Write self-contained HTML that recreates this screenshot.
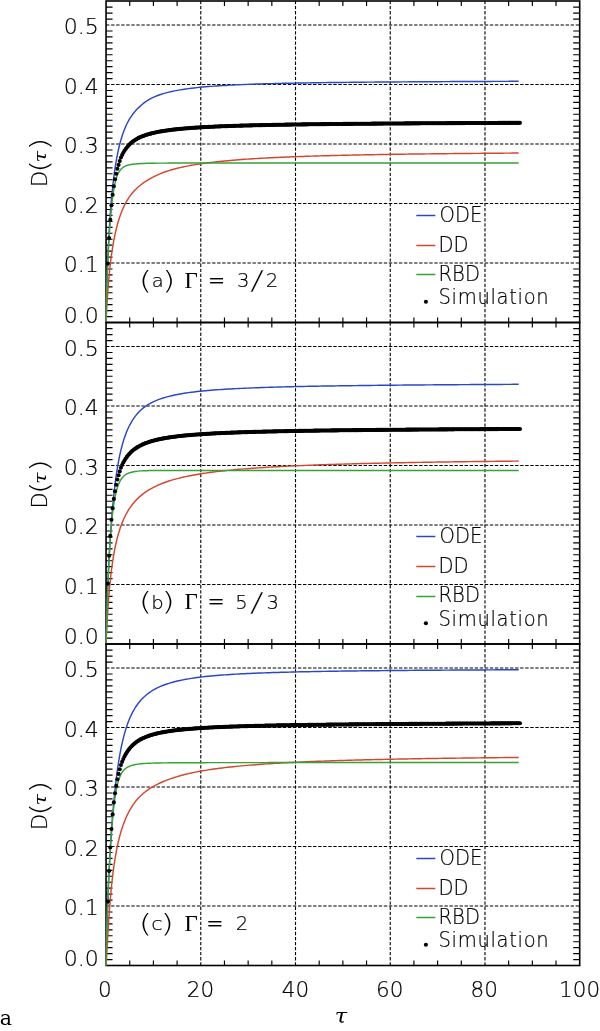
<!DOCTYPE html>
<html><head><meta charset="utf-8"><title>D(tau) vs tau</title>
<style>html,body{margin:0;padding:0;background:#fff}svg{display:block}</style></head><body>
<svg width="600" height="1031" viewBox="0 0 600 1031">
<rect width="600" height="1031" fill="#fff"/>
<g stroke="#000" stroke-width="1.1" fill="none"><path d="M106.05 263H579.7" stroke-dasharray="3.4 1.65"/><path d="M106.05 203.5H579.7" stroke-dasharray="3.4 1.65"/><path d="M106.05 144H579.7" stroke-dasharray="3.4 1.65"/><path d="M106.05 84.5H579.7" stroke-dasharray="3.4 1.65"/><path d="M106.05 25H579.7" stroke-dasharray="3.4 1.65"/><path d="M200.78 1V322.5" stroke-dasharray="3.3 1.75"/><path d="M295.51 1V322.5" stroke-dasharray="3.3 1.75"/><path d="M390.24 1V322.5" stroke-dasharray="3.3 1.75"/><path d="M484.97 1V322.5" stroke-dasharray="3.3 1.75"/></g>
<path d="M106.05 316.55h6.5M579.7 316.55h-6.5M106.05 310.6h6.5M579.7 310.6h-6.5M106.05 304.65h6.5M579.7 304.65h-6.5M106.05 298.7h6.5M579.7 298.7h-6.5M106.05 292.75h6.5M579.7 292.75h-6.5M106.05 286.8h6.5M579.7 286.8h-6.5M106.05 280.85h6.5M579.7 280.85h-6.5M106.05 274.9h6.5M579.7 274.9h-6.5M106.05 268.95h6.5M579.7 268.95h-6.5M106.05 257.05h6.5M579.7 257.05h-6.5M106.05 251.1h6.5M579.7 251.1h-6.5M106.05 245.15h6.5M579.7 245.15h-6.5M106.05 239.2h6.5M579.7 239.2h-6.5M106.05 233.25h6.5M579.7 233.25h-6.5M106.05 227.3h6.5M579.7 227.3h-6.5M106.05 221.35h6.5M579.7 221.35h-6.5M106.05 215.4h6.5M579.7 215.4h-6.5M106.05 209.45h6.5M579.7 209.45h-6.5M106.05 197.55h6.5M579.7 197.55h-6.5M106.05 191.6h6.5M579.7 191.6h-6.5M106.05 185.65h6.5M579.7 185.65h-6.5M106.05 179.7h6.5M579.7 179.7h-6.5M106.05 173.75h6.5M579.7 173.75h-6.5M106.05 167.8h6.5M579.7 167.8h-6.5M106.05 161.85h6.5M579.7 161.85h-6.5M106.05 155.9h6.5M579.7 155.9h-6.5M106.05 149.95h6.5M579.7 149.95h-6.5M106.05 138.05h6.5M579.7 138.05h-6.5M106.05 132.1h6.5M579.7 132.1h-6.5M106.05 126.15h6.5M579.7 126.15h-6.5M106.05 120.2h6.5M579.7 120.2h-6.5M106.05 114.25h6.5M579.7 114.25h-6.5M106.05 108.3h6.5M579.7 108.3h-6.5M106.05 102.35h6.5M579.7 102.35h-6.5M106.05 96.4h6.5M579.7 96.4h-6.5M106.05 90.45h6.5M579.7 90.45h-6.5M106.05 78.55h6.5M579.7 78.55h-6.5M106.05 72.6h6.5M579.7 72.6h-6.5M106.05 66.65h6.5M579.7 66.65h-6.5M106.05 60.7h6.5M579.7 60.7h-6.5M106.05 54.75h6.5M579.7 54.75h-6.5M106.05 48.8h6.5M579.7 48.8h-6.5M106.05 42.85h6.5M579.7 42.85h-6.5M106.05 36.9h6.5M579.7 36.9h-6.5M106.05 30.95h6.5M579.7 30.95h-6.5M106.05 19.05h6.5M579.7 19.05h-6.5M106.05 13.1h6.5M579.7 13.1h-6.5M106.05 7.15h6.5M579.7 7.15h-6.5M129.73 322.5v-5.0M129.73 1v5.0M153.41 322.5v-5.0M153.41 1v5.0M177.1 322.5v-5.0M177.1 1v5.0M224.46 322.5v-5.0M224.46 1v5.0M248.14 322.5v-5.0M248.14 1v5.0M271.83 322.5v-5.0M271.83 1v5.0M319.19 322.5v-5.0M319.19 1v5.0M342.88 322.5v-5.0M342.88 1v5.0M366.56 322.5v-5.0M366.56 1v5.0M413.92 322.5v-5.0M413.92 1v5.0M437.61 322.5v-5.0M437.61 1v5.0M461.29 322.5v-5.0M461.29 1v5.0M508.65 322.5v-5.0M508.65 1v5.0M532.34 322.5v-5.0M532.34 1v5.0M556.02 322.5v-5.0M556.02 1v5.0" stroke="#000" stroke-width="1.15" fill="none"/>
<rect x="106.05" y="1" width="473.65" height="321.5" fill="none" stroke="#000" stroke-width="1.6"/>
<g fill="none" stroke-width="1.45" stroke-linejoin="round">
<path d="M106.05 322.5 106.11 318.15 106.17 314.72 106.23 311.61 106.29 308.7 106.35 305.94 106.41 303.31 106.48 300.79 106.54 298.36 106.6 296.02 106.66 293.74 106.72 291.54 106.78 289.39 106.84 287.31 106.9 285.27 106.96 283.29 107.02 281.35 107.08 279.46 107.14 277.61 107.2 275.8 107.26 274.03 107.33 272.29 107.39 270.59 107.45 268.93 107.51 267.29 107.57 265.68 107.63 264.11 107.69 262.56 107.75 261.04 107.81 259.55 107.87 258.08 107.93 256.64 107.99 255.22 108.05 253.82 108.11 252.45 108.18 251.1 108.24 249.77 108.3 248.46 108.36 247.17 108.42 245.89 108.66 241.06 108.9 236.5 109.14 232.18 109.38 228.08 109.62 224.18 109.86 220.46 110.09 216.92 110.33 213.54 110.57 210.31 110.81 207.22 111.05 204.26 111.29 201.41 111.53 198.69 111.77 196.06 112.01 193.54 112.25 191.12 112.49 188.78 112.73 186.53 112.97 184.36 113.21 182.26 113.45 180.23 113.69 178.28 113.93 176.39 114.17 174.56 114.41 172.79 114.64 171.07 114.88 169.41 115.12 167.8 115.36 166.24 115.6 164.73 115.84 163.26 116.08 161.83 116.32 160.44 116.56 159.1 116.8 157.79 117.04 156.52 117.28 155.28 117.52 154.07 117.76 152.9 118 151.76 118.24 150.65 118.48 149.57 118.72 148.51 118.96 147.48 119.2 146.48 119.43 145.5 119.67 144.55 119.91 143.61 120.15 142.71 120.39 141.82 120.63 140.95 120.87 140.1 121.11 139.28 121.35 138.47 121.59 137.68 121.83 136.91 122.07 136.15 122.31 135.41 122.55 134.69 122.79 133.98 123.03 133.29 123.27 132.61 123.51 131.95 123.75 131.3 123.98 130.66 124.22 130.04 124.46 129.43 124.7 128.83 124.94 128.24 125.18 127.67 125.42 127.1 125.66 126.55 125.9 126.01 126.14 125.48 126.38 124.96 126.62 124.45 126.86 123.95 127.1 123.46 127.34 122.98 127.58 122.51 127.82 122.05 128.06 121.6 128.3 121.16 128.54 120.73 128.77 120.3 129.01 119.89 129.25 119.48 129.49 119.08 129.73 118.69 132.53 114.55 135.33 111.09 138.13 108.11 140.93 105.47 143.72 103.15 146.52 101.14 149.32 99.42 152.12 97.93 154.92 96.64 157.72 95.51 160.51 94.53 163.31 93.65 166.11 92.86 168.91 92.15 171.71 91.5 174.51 90.91 177.3 90.37 180.1 89.88 182.9 89.42 185.7 89.01 188.5 88.62 191.3 88.26 194.09 87.93 196.89 87.62 199.69 87.33 202.49 87.06 205.29 86.81 208.09 86.58 210.88 86.36 213.68 86.15 216.48 85.95 219.28 85.77 222.08 85.6 224.88 85.43 227.67 85.28 230.47 85.13 233.27 84.99 236.07 84.86 238.87 84.73 241.67 84.61 244.46 84.5 247.26 84.39 250.06 84.29 252.86 84.19 255.66 84.09 258.46 84 261.25 83.92 264.05 83.83 266.85 83.75 269.65 83.68 272.45 83.6 275.25 83.53 278.04 83.47 280.84 83.4 283.64 83.34 286.44 83.28 289.24 83.22 292.04 83.16 294.83 83.11 297.63 83.06 300.43 83 303.23 82.96 306.03 82.91 308.83 82.86 311.62 82.82 314.42 82.77 317.22 82.73 320.02 82.69 322.82 82.65 325.62 82.61 328.41 82.58 331.21 82.54 334.01 82.51 336.81 82.47 339.61 82.44 342.41 82.41 345.2 82.38 348 82.35 350.8 82.32 353.6 82.29 356.4 82.26 359.2 82.23 361.99 82.2 364.79 82.18 367.59 82.15 370.39 82.13 373.19 82.1 375.99 82.08 378.78 82.06 381.58 82.03 384.38 82.01 387.18 81.99 389.98 81.97 392.78 81.95 395.57 81.93 398.37 81.91 401.17 81.89 403.97 81.87 406.77 81.85 409.57 81.83 412.36 81.81 415.16 81.79 417.96 81.78 420.76 81.76 423.56 81.74 426.36 81.73 429.15 81.71 431.95 81.7 434.75 81.68 437.55 81.66 440.35 81.65 443.15 81.63 445.94 81.62 448.74 81.61 451.54 81.59 454.34 81.58 457.14 81.56 459.94 81.55 462.73 81.54 465.53 81.52 468.33 81.51 471.13 81.5 473.93 81.49 476.73 81.47 479.52 81.46 482.32 81.45 485.12 81.44 487.92 81.43 490.72 81.42 493.52 81.4 496.31 81.39 499.11 81.38 501.91 81.37 504.71 81.36 507.51 81.35 510.31 81.34 513.1 81.33 515.9 81.32 518.7 81.31" stroke="#2a48c4"/>
<path d="M106.05 322.5 106.11 320.92 106.17 319.5 106.23 318.15 106.29 316.84 106.35 315.58 106.41 314.35 106.48 313.15 106.54 311.97 106.6 310.82 106.66 309.69 106.72 308.59 106.78 307.5 106.84 306.44 106.9 305.39 106.96 304.36 107.02 303.35 107.08 302.36 107.14 301.38 107.2 300.41 107.26 299.46 107.33 298.53 107.39 297.6 107.45 296.69 107.51 295.8 107.57 294.92 107.63 294.04 107.69 293.19 107.75 292.34 107.81 291.5 107.87 290.68 107.93 289.86 107.99 289.06 108.05 288.26 108.11 287.48 108.18 286.7 108.24 285.94 108.3 285.18 108.36 284.44 108.42 283.7 108.66 280.88 108.9 278.18 109.14 275.6 109.38 273.12 109.62 270.75 109.86 268.47 110.09 266.28 110.33 264.17 110.57 262.14 110.81 260.18 111.05 258.29 111.29 256.47 111.53 254.71 111.77 253 112.01 251.36 112.25 249.76 112.49 248.22 112.73 246.72 112.97 245.27 113.21 243.86 113.45 242.5 113.69 241.17 113.93 239.88 114.17 238.63 114.41 237.41 114.64 236.22 114.88 235.07 115.12 233.95 115.36 232.86 115.6 231.79 115.84 230.75 116.08 229.74 116.32 228.75 116.56 227.79 116.8 226.85 117.04 225.93 117.28 225.04 117.52 224.16 117.76 223.3 118 222.47 118.24 221.65 118.48 220.85 118.72 220.07 118.96 219.31 119.2 218.56 119.43 217.83 119.67 217.11 119.91 216.41 120.15 215.72 120.39 215.04 120.63 214.38 120.87 213.74 121.11 213.1 121.35 212.48 121.59 211.87 121.83 211.27 122.07 210.68 122.31 210.1 122.55 209.54 122.79 208.98 123.03 208.44 123.27 207.9 123.51 207.38 123.75 206.86 123.98 206.35 124.22 205.85 124.46 205.36 124.7 204.88 124.94 204.41 125.18 203.94 125.42 203.48 125.66 203.03 125.9 202.59 126.14 202.15 126.38 201.73 126.62 201.3 126.86 200.89 127.1 200.48 127.34 200.08 127.58 199.68 127.82 199.29 128.06 198.91 128.3 198.53 128.54 198.16 128.77 197.79 129.01 197.43 129.25 197.08 129.49 196.73 129.73 196.39 132.53 192.75 135.33 189.69 138.13 187.06 140.93 184.76 143.72 182.7 146.52 180.82 149.32 179.09 152.12 177.53 154.92 176.1 157.72 174.8 160.51 173.62 163.31 172.54 166.11 171.55 168.91 170.63 171.71 169.79 174.51 169.01 177.3 168.29 180.1 167.61 182.9 166.98 185.7 166.4 188.5 165.85 191.3 165.33 194.09 164.84 196.89 164.39 199.69 163.96 202.49 163.55 205.29 163.16 208.09 162.8 210.88 162.45 213.68 162.12 216.48 161.81 219.28 161.51 222.08 161.22 224.88 160.95 227.67 160.69 230.47 160.44 233.27 160.2 236.07 159.97 238.87 159.75 241.67 159.54 244.46 159.34 247.26 159.15 250.06 158.96 252.86 158.78 255.66 158.61 258.46 158.44 261.25 158.28 264.05 158.13 266.85 157.98 269.65 157.83 272.45 157.69 275.25 157.56 278.04 157.43 280.84 157.3 283.64 157.18 286.44 157.06 289.24 156.95 292.04 156.84 294.83 156.73 297.63 156.62 300.43 156.52 303.23 156.42 306.03 156.33 308.83 156.24 311.62 156.15 314.42 156.06 317.22 155.97 320.02 155.89 322.82 155.81 325.62 155.73 328.41 155.66 331.21 155.58 334.01 155.51 336.81 155.44 339.61 155.37 342.41 155.3 345.2 155.24 348 155.17 350.8 155.11 353.6 155.05 356.4 154.99 359.2 154.93 361.99 154.88 364.79 154.82 367.59 154.77 370.39 154.72 373.19 154.67 375.99 154.62 378.78 154.57 381.58 154.52 384.38 154.47 387.18 154.43 389.98 154.38 392.78 154.34 395.57 154.3 398.37 154.25 401.17 154.21 403.97 154.17 406.77 154.13 409.57 154.09 412.36 154.06 415.16 154.02 417.96 153.98 420.76 153.95 423.56 153.91 426.36 153.88 429.15 153.85 431.95 153.81 434.75 153.78 437.55 153.75 440.35 153.72 443.15 153.69 445.94 153.66 448.74 153.63 451.54 153.6 454.34 153.57 457.14 153.55 459.94 153.52 462.73 153.49 465.53 153.47 468.33 153.44 471.13 153.42 473.93 153.39 476.73 153.37 479.52 153.35 482.32 153.32 485.12 153.3 487.92 153.28 490.72 153.25 493.52 153.23 496.31 153.21 499.11 153.19 501.91 153.17 504.71 153.15 507.51 153.13 510.31 153.11 513.1 153.09 515.9 153.07 518.7 153.05" stroke="#d4472f"/>
<path d="M106.05 322.5 106.11 313.91 106.17 309.6 106.23 306.13 106.29 303.12 106.35 300.42 106.41 297.92 106.48 295.6 106.54 293.41 106.6 291.33 106.66 289.34 106.72 287.44 106.78 285.6 106.84 283.83 106.9 282.12 106.96 280.45 107.02 278.83 107.08 277.25 107.14 275.72 107.2 274.21 107.26 272.74 107.33 271.3 107.39 269.89 107.45 268.51 107.51 267.15 107.57 265.82 107.63 264.51 107.69 263.22 107.75 261.95 107.81 260.71 107.87 259.48 107.93 258.27 107.99 257.07 108.05 255.9 108.11 254.74 108.18 253.59 108.24 252.47 108.3 251.35 108.36 250.25 108.42 249.17 108.66 245.01 108.9 241.05 109.14 237.26 109.38 233.64 109.62 230.18 109.86 226.86 110.09 223.68 110.33 220.64 110.57 217.73 110.81 214.95 111.05 212.29 111.29 209.75 111.53 207.33 111.77 205.03 112.01 202.84 112.25 200.75 112.49 198.77 112.73 196.89 112.97 195.11 113.21 193.42 113.45 191.82 113.69 190.31 113.93 188.88 114.17 187.53 114.41 186.25 114.64 185.05 114.88 183.91 115.12 182.84 115.36 181.83 115.6 180.88 115.84 179.98 116.08 179.13 116.32 178.33 116.56 177.58 116.8 176.86 117.04 176.19 117.28 175.56 117.52 174.97 117.76 174.4 118 173.87 118.24 173.37 118.48 172.9 118.72 172.45 118.96 172.03 119.2 171.63 119.43 171.25 119.67 170.89 119.91 170.55 120.15 170.23 120.39 169.93 120.63 169.64 120.87 169.37 121.11 169.11 121.35 168.86 121.59 168.63 121.83 168.41 122.07 168.2 122.31 168 122.55 167.8 122.79 167.62 123.03 167.45 123.27 167.29 123.51 167.13 123.75 166.98 123.98 166.84 124.22 166.7 124.46 166.57 124.7 166.44 124.94 166.33 125.18 166.21 125.42 166.1 125.66 166 125.9 165.9 126.14 165.8 126.38 165.71 126.62 165.63 126.86 165.54 127.1 165.46 127.34 165.38 127.58 165.31 127.82 165.24 128.06 165.17 128.3 165.1 128.54 165.04 128.77 164.98 129.01 164.92 129.25 164.86 129.49 164.81 129.73 164.75 132.53 164.26 135.33 163.93 138.13 163.7 140.93 163.53 143.72 163.42 146.52 163.33 149.32 163.27 152.12 163.22 154.92 163.18 157.72 163.15 160.51 163.13 163.31 163.11 166.11 163.1 168.91 163.08 171.71 163.07 174.51 163.06 177.3 163.06 180.1 163.05 182.9 163.05 185.7 163.04 188.5 163.04 191.3 163.03 194.09 163.03 196.89 163.03 199.69 163.03 202.49 163.03 205.29 163.03 208.09 163.02 210.88 163.02 213.68 163.02 216.48 163.02 219.28 163.02 222.08 163.02 224.88 163.02 227.67 163.02 230.47 163.02 233.27 163.02 236.07 163.02 238.87 163.02 241.67 163.02 244.46 163.02 247.26 163.02 250.06 163.02 252.86 163.02 255.66 163.02 258.46 163.02 261.25 163.02 264.05 163.01 266.85 163.01 269.65 163.01 272.45 163.01 275.25 163.01 278.04 163.01 280.84 163.01 283.64 163.01 286.44 163.01 289.24 163.01 292.04 163.01 294.83 163.01 297.63 163.01 300.43 163.01 303.23 163.01 306.03 163.01 308.83 163.01 311.62 163.01 314.42 163.01 317.22 163.01 320.02 163.01 322.82 163.01 325.62 163.01 328.41 163.01 331.21 163.01 334.01 163.01 336.81 163.01 339.61 163.01 342.41 163.01 345.2 163.01 348 163.01 350.8 163.01 353.6 163.01 356.4 163.01 359.2 163.01 361.99 163.01 364.79 163.01 367.59 163.01 370.39 163.01 373.19 163.01 375.99 163.01 378.78 163.01 381.58 163.01 384.38 163.01 387.18 163.01 389.98 163.01 392.78 163.01 395.57 163.01 398.37 163.01 401.17 163.01 403.97 163.01 406.77 163 409.57 163 412.36 163 415.16 163 417.96 163 420.76 163 423.56 163 426.36 163 429.15 163 431.95 163 434.75 163 437.55 163 440.35 163 443.15 163 445.94 163 448.74 163 451.54 163 454.34 163 457.14 163 459.94 163 462.73 163 465.53 163 468.33 163 471.13 163 473.93 163 476.73 163 479.52 163 482.32 163 485.12 163 487.92 163 490.72 163 493.52 163 496.31 163 499.11 163 501.91 163 504.71 163 507.51 163 510.31 163 513.1 162.99 515.9 162.99 518.7 162.99" stroke="#36a136"/>
</g>
<g fill="#000"><circle cx="107.9" cy="263.6" r="2.05"/><circle cx="109.08" cy="238" r="2.05"/><circle cx="110.27" cy="219.8" r="2.05"/><circle cx="111.45" cy="205.3" r="2.05"/><circle cx="112.64" cy="194.7" r="2.05"/><circle cx="113.82" cy="186.2" r="2.05"/><circle cx="115" cy="179.2" r="2.05"/><circle cx="116.19" cy="173.8" r="2.05"/><circle cx="117.37" cy="168.8" r="2.05"/><circle cx="118.56" cy="164.9" r="2.05"/><circle cx="119.74" cy="161" r="2.05"/><circle cx="120.93" cy="157.46" r="2.05"/><circle cx="122.11" cy="154.93" r="2.05"/><circle cx="123.29" cy="152.71" r="2.05"/><circle cx="124.48" cy="150.75" r="2.05"/><circle cx="125.66" cy="149.01" r="2.05"/><circle cx="126.85" cy="147.45" r="2.05"/><circle cx="128.03" cy="146.05" r="2.05"/><circle cx="129.21" cy="144.77" r="2.05"/><circle cx="130.4" cy="143.62" r="2.05"/><circle cx="131.58" cy="142.56" r="2.05"/><circle cx="132.77" cy="141.61" r="2.05"/><circle cx="133.95" cy="140.73" r="2.05"/><circle cx="135.13" cy="139.93" r="2.05"/><circle cx="136.32" cy="139.2" r="2.05"/><circle cx="137.5" cy="138.53" r="2.05"/><circle cx="138.69" cy="137.92" r="2.05"/><circle cx="139.87" cy="137.35" r="2.05"/><circle cx="141.05" cy="136.82" r="2.05"/><circle cx="142.24" cy="136.33" r="2.05"/><circle cx="143.42" cy="135.88" r="2.05"/><circle cx="144.61" cy="135.45" r="2.05"/><circle cx="145.79" cy="135.05" r="2.05"/><circle cx="146.98" cy="134.67" r="2.05"/><circle cx="148.16" cy="134.31" r="2.05"/><circle cx="149.34" cy="133.97" r="2.05"/><circle cx="150.53" cy="133.65" r="2.05"/><circle cx="151.71" cy="133.34" r="2.05"/><circle cx="152.9" cy="133.05" r="2.05"/><circle cx="154.08" cy="132.77" r="2.05"/><circle cx="155.26" cy="132.51" r="2.05"/><circle cx="156.45" cy="132.26" r="2.05"/><circle cx="157.63" cy="132.02" r="2.05"/><circle cx="158.82" cy="131.79" r="2.05"/><circle cx="160" cy="131.57" r="2.05"/><circle cx="161.18" cy="131.36" r="2.05"/><circle cx="162.37" cy="131.16" r="2.05"/><circle cx="163.55" cy="130.97" r="2.05"/><circle cx="164.74" cy="130.79" r="2.05"/><circle cx="165.92" cy="130.61" r="2.05"/><circle cx="167.11" cy="130.44" r="2.05"/><circle cx="168.29" cy="130.27" r="2.05"/><circle cx="169.47" cy="130.11" r="2.05"/><circle cx="170.66" cy="129.96" r="2.05"/><circle cx="171.84" cy="129.81" r="2.05"/><circle cx="173.03" cy="129.67" r="2.05"/><circle cx="174.21" cy="129.53" r="2.05"/><circle cx="175.39" cy="129.4" r="2.05"/><circle cx="176.58" cy="129.27" r="2.05"/><circle cx="177.76" cy="129.14" r="2.05"/><circle cx="178.95" cy="129.02" r="2.05"/><circle cx="180.13" cy="128.9" r="2.05"/><circle cx="181.31" cy="128.79" r="2.05"/><circle cx="182.5" cy="128.68" r="2.05"/><circle cx="183.68" cy="128.57" r="2.05"/><circle cx="184.87" cy="128.47" r="2.05"/><circle cx="186.05" cy="128.37" r="2.05"/><circle cx="187.23" cy="128.27" r="2.05"/><circle cx="188.42" cy="128.18" r="2.05"/><circle cx="189.6" cy="128.08" r="2.05"/><circle cx="190.79" cy="128" r="2.05"/><circle cx="191.97" cy="127.91" r="2.05"/><circle cx="193.16" cy="127.82" r="2.05"/><circle cx="194.34" cy="127.74" r="2.05"/><circle cx="195.52" cy="127.66" r="2.05"/><circle cx="196.71" cy="127.58" r="2.05"/><circle cx="197.89" cy="127.51" r="2.05"/><circle cx="199.08" cy="127.43" r="2.05"/><circle cx="200.26" cy="127.36" r="2.05"/><circle cx="201.44" cy="127.29" r="2.05"/><circle cx="202.63" cy="127.22" r="2.05"/><circle cx="203.81" cy="127.16" r="2.05"/><circle cx="205" cy="127.09" r="2.05"/><circle cx="206.18" cy="127.03" r="2.05"/><circle cx="207.36" cy="126.97" r="2.05"/><circle cx="208.55" cy="126.91" r="2.05"/><circle cx="209.73" cy="126.85" r="2.05"/><circle cx="210.92" cy="126.79" r="2.05"/><circle cx="212.1" cy="126.73" r="2.05"/><circle cx="213.28" cy="126.68" r="2.05"/><circle cx="214.47" cy="126.62" r="2.05"/><circle cx="215.65" cy="126.57" r="2.05"/><circle cx="216.84" cy="126.52" r="2.05"/><circle cx="218.02" cy="126.47" r="2.05"/><circle cx="219.21" cy="126.42" r="2.05"/><circle cx="220.39" cy="126.37" r="2.05"/><circle cx="221.57" cy="126.32" r="2.05"/><circle cx="222.76" cy="126.28" r="2.05"/><circle cx="223.94" cy="126.23" r="2.05"/><circle cx="225.13" cy="126.18" r="2.05"/><circle cx="226.31" cy="126.14" r="2.05"/><circle cx="227.49" cy="126.1" r="2.05"/><circle cx="228.68" cy="126.06" r="2.05"/><circle cx="229.86" cy="126.01" r="2.05"/><circle cx="231.05" cy="125.97" r="2.05"/><circle cx="232.23" cy="125.93" r="2.05"/><circle cx="233.41" cy="125.89" r="2.05"/><circle cx="234.6" cy="125.86" r="2.05"/><circle cx="235.78" cy="125.82" r="2.05"/><circle cx="236.97" cy="125.78" r="2.05"/><circle cx="238.15" cy="125.74" r="2.05"/><circle cx="239.34" cy="125.71" r="2.05"/><circle cx="240.52" cy="125.67" r="2.05"/><circle cx="241.7" cy="125.64" r="2.05"/><circle cx="242.89" cy="125.61" r="2.05"/><circle cx="244.07" cy="125.57" r="2.05"/><circle cx="245.26" cy="125.54" r="2.05"/><circle cx="246.44" cy="125.51" r="2.05"/><circle cx="247.62" cy="125.48" r="2.05"/><circle cx="248.81" cy="125.44" r="2.05"/><circle cx="249.99" cy="125.41" r="2.05"/><circle cx="251.18" cy="125.38" r="2.05"/><circle cx="252.36" cy="125.35" r="2.05"/><circle cx="253.54" cy="125.32" r="2.05"/><circle cx="254.73" cy="125.29" r="2.05"/><circle cx="255.91" cy="125.27" r="2.05"/><circle cx="257.1" cy="125.24" r="2.05"/><circle cx="258.28" cy="125.21" r="2.05"/><circle cx="259.46" cy="125.18" r="2.05"/><circle cx="260.65" cy="125.16" r="2.05"/><circle cx="261.83" cy="125.13" r="2.05"/><circle cx="263.02" cy="125.1" r="2.05"/><circle cx="264.2" cy="125.08" r="2.05"/><circle cx="265.39" cy="125.05" r="2.05"/><circle cx="266.57" cy="125.03" r="2.05"/><circle cx="267.75" cy="125" r="2.05"/><circle cx="268.94" cy="124.98" r="2.05"/><circle cx="270.12" cy="124.96" r="2.05"/><circle cx="271.31" cy="124.93" r="2.05"/><circle cx="272.49" cy="124.91" r="2.05"/><circle cx="273.67" cy="124.89" r="2.05"/><circle cx="274.86" cy="124.86" r="2.05"/><circle cx="276.04" cy="124.84" r="2.05"/><circle cx="277.23" cy="124.82" r="2.05"/><circle cx="278.41" cy="124.8" r="2.05"/><circle cx="279.59" cy="124.78" r="2.05"/><circle cx="280.78" cy="124.76" r="2.05"/><circle cx="281.96" cy="124.74" r="2.05"/><circle cx="283.15" cy="124.71" r="2.05"/><circle cx="284.33" cy="124.69" r="2.05"/><circle cx="285.51" cy="124.67" r="2.05"/><circle cx="286.7" cy="124.65" r="2.05"/><circle cx="287.88" cy="124.64" r="2.05"/><circle cx="289.07" cy="124.62" r="2.05"/><circle cx="290.25" cy="124.6" r="2.05"/><circle cx="291.44" cy="124.58" r="2.05"/><circle cx="292.62" cy="124.56" r="2.05"/><circle cx="293.8" cy="124.54" r="2.05"/><circle cx="294.99" cy="124.52" r="2.05"/><circle cx="296.17" cy="124.5" r="2.05"/><circle cx="297.36" cy="124.49" r="2.05"/><circle cx="298.54" cy="124.47" r="2.05"/><circle cx="299.72" cy="124.45" r="2.05"/><circle cx="300.91" cy="124.43" r="2.05"/><circle cx="302.09" cy="124.42" r="2.05"/><circle cx="303.28" cy="124.4" r="2.05"/><circle cx="304.46" cy="124.38" r="2.05"/><circle cx="305.64" cy="124.37" r="2.05"/><circle cx="306.83" cy="124.35" r="2.05"/><circle cx="308.01" cy="124.34" r="2.05"/><circle cx="309.2" cy="124.32" r="2.05"/><circle cx="310.38" cy="124.3" r="2.05"/><circle cx="311.57" cy="124.29" r="2.05"/><circle cx="312.75" cy="124.27" r="2.05"/><circle cx="313.93" cy="124.26" r="2.05"/><circle cx="315.12" cy="124.24" r="2.05"/><circle cx="316.3" cy="124.23" r="2.05"/><circle cx="317.49" cy="124.21" r="2.05"/><circle cx="318.67" cy="124.2" r="2.05"/><circle cx="319.85" cy="124.18" r="2.05"/><circle cx="321.04" cy="124.17" r="2.05"/><circle cx="322.22" cy="124.16" r="2.05"/><circle cx="323.41" cy="124.14" r="2.05"/><circle cx="324.59" cy="124.13" r="2.05"/><circle cx="325.77" cy="124.11" r="2.05"/><circle cx="326.96" cy="124.1" r="2.05"/><circle cx="328.14" cy="124.09" r="2.05"/><circle cx="329.33" cy="124.07" r="2.05"/><circle cx="330.51" cy="124.06" r="2.05"/><circle cx="331.69" cy="124.05" r="2.05"/><circle cx="332.88" cy="124.03" r="2.05"/><circle cx="334.06" cy="124.02" r="2.05"/><circle cx="335.25" cy="124.01" r="2.05"/><circle cx="336.43" cy="124" r="2.05"/><circle cx="337.62" cy="123.98" r="2.05"/><circle cx="338.8" cy="123.97" r="2.05"/><circle cx="339.98" cy="123.96" r="2.05"/><circle cx="341.17" cy="123.95" r="2.05"/><circle cx="342.35" cy="123.94" r="2.05"/><circle cx="343.54" cy="123.92" r="2.05"/><circle cx="344.72" cy="123.91" r="2.05"/><circle cx="345.9" cy="123.9" r="2.05"/><circle cx="347.09" cy="123.89" r="2.05"/><circle cx="348.27" cy="123.88" r="2.05"/><circle cx="349.46" cy="123.87" r="2.05"/><circle cx="350.64" cy="123.85" r="2.05"/><circle cx="351.82" cy="123.84" r="2.05"/><circle cx="353.01" cy="123.83" r="2.05"/><circle cx="354.19" cy="123.82" r="2.05"/><circle cx="355.38" cy="123.81" r="2.05"/><circle cx="356.56" cy="123.8" r="2.05"/><circle cx="357.75" cy="123.79" r="2.05"/><circle cx="358.93" cy="123.78" r="2.05"/><circle cx="360.11" cy="123.77" r="2.05"/><circle cx="361.3" cy="123.76" r="2.05"/><circle cx="362.48" cy="123.75" r="2.05"/><circle cx="363.67" cy="123.74" r="2.05"/><circle cx="364.85" cy="123.73" r="2.05"/><circle cx="366.03" cy="123.72" r="2.05"/><circle cx="367.22" cy="123.71" r="2.05"/><circle cx="368.4" cy="123.7" r="2.05"/><circle cx="369.59" cy="123.69" r="2.05"/><circle cx="370.77" cy="123.68" r="2.05"/><circle cx="371.95" cy="123.67" r="2.05"/><circle cx="373.14" cy="123.66" r="2.05"/><circle cx="374.32" cy="123.65" r="2.05"/><circle cx="375.51" cy="123.64" r="2.05"/><circle cx="376.69" cy="123.63" r="2.05"/><circle cx="377.87" cy="123.62" r="2.05"/><circle cx="379.06" cy="123.61" r="2.05"/><circle cx="380.24" cy="123.6" r="2.05"/><circle cx="381.43" cy="123.59" r="2.05"/><circle cx="382.61" cy="123.58" r="2.05"/><circle cx="383.8" cy="123.57" r="2.05"/><circle cx="384.98" cy="123.56" r="2.05"/><circle cx="386.16" cy="123.55" r="2.05"/><circle cx="387.35" cy="123.55" r="2.05"/><circle cx="388.53" cy="123.54" r="2.05"/><circle cx="389.72" cy="123.53" r="2.05"/><circle cx="390.9" cy="123.52" r="2.05"/><circle cx="392.08" cy="123.51" r="2.05"/><circle cx="393.27" cy="123.5" r="2.05"/><circle cx="394.45" cy="123.49" r="2.05"/><circle cx="395.64" cy="123.49" r="2.05"/><circle cx="396.82" cy="123.48" r="2.05"/><circle cx="398" cy="123.47" r="2.05"/><circle cx="399.19" cy="123.46" r="2.05"/><circle cx="400.37" cy="123.45" r="2.05"/><circle cx="401.56" cy="123.44" r="2.05"/><circle cx="402.74" cy="123.44" r="2.05"/><circle cx="403.92" cy="123.43" r="2.05"/><circle cx="405.11" cy="123.42" r="2.05"/><circle cx="406.29" cy="123.41" r="2.05"/><circle cx="407.48" cy="123.4" r="2.05"/><circle cx="408.66" cy="123.4" r="2.05"/><circle cx="409.85" cy="123.39" r="2.05"/><circle cx="411.03" cy="123.38" r="2.05"/><circle cx="412.21" cy="123.37" r="2.05"/><circle cx="413.4" cy="123.37" r="2.05"/><circle cx="414.58" cy="123.36" r="2.05"/><circle cx="415.77" cy="123.35" r="2.05"/><circle cx="416.95" cy="123.34" r="2.05"/><circle cx="418.13" cy="123.34" r="2.05"/><circle cx="419.32" cy="123.33" r="2.05"/><circle cx="420.5" cy="123.32" r="2.05"/><circle cx="421.69" cy="123.31" r="2.05"/><circle cx="422.87" cy="123.31" r="2.05"/><circle cx="424.05" cy="123.3" r="2.05"/><circle cx="425.24" cy="123.29" r="2.05"/><circle cx="426.42" cy="123.29" r="2.05"/><circle cx="427.61" cy="123.28" r="2.05"/><circle cx="428.79" cy="123.27" r="2.05"/><circle cx="429.98" cy="123.26" r="2.05"/><circle cx="431.16" cy="123.26" r="2.05"/><circle cx="432.34" cy="123.25" r="2.05"/><circle cx="433.53" cy="123.24" r="2.05"/><circle cx="434.71" cy="123.24" r="2.05"/><circle cx="435.9" cy="123.23" r="2.05"/><circle cx="437.08" cy="123.22" r="2.05"/><circle cx="438.26" cy="123.22" r="2.05"/><circle cx="439.45" cy="123.21" r="2.05"/><circle cx="440.63" cy="123.2" r="2.05"/><circle cx="441.82" cy="123.2" r="2.05"/><circle cx="443" cy="123.19" r="2.05"/><circle cx="444.18" cy="123.18" r="2.05"/><circle cx="445.37" cy="123.18" r="2.05"/><circle cx="446.55" cy="123.17" r="2.05"/><circle cx="447.74" cy="123.16" r="2.05"/><circle cx="448.92" cy="123.16" r="2.05"/><circle cx="450.1" cy="123.15" r="2.05"/><circle cx="451.29" cy="123.15" r="2.05"/><circle cx="452.47" cy="123.14" r="2.05"/><circle cx="453.66" cy="123.13" r="2.05"/><circle cx="454.84" cy="123.13" r="2.05"/><circle cx="456.03" cy="123.12" r="2.05"/><circle cx="457.21" cy="123.12" r="2.05"/><circle cx="458.39" cy="123.11" r="2.05"/><circle cx="459.58" cy="123.1" r="2.05"/><circle cx="460.76" cy="123.1" r="2.05"/><circle cx="461.95" cy="123.09" r="2.05"/><circle cx="463.13" cy="123.09" r="2.05"/><circle cx="464.31" cy="123.08" r="2.05"/><circle cx="465.5" cy="123.07" r="2.05"/><circle cx="466.68" cy="123.07" r="2.05"/><circle cx="467.87" cy="123.06" r="2.05"/><circle cx="469.05" cy="123.06" r="2.05"/><circle cx="470.23" cy="123.05" r="2.05"/><circle cx="471.42" cy="123.04" r="2.05"/><circle cx="472.6" cy="123.04" r="2.05"/><circle cx="473.79" cy="123.03" r="2.05"/><circle cx="474.97" cy="123.03" r="2.05"/><circle cx="476.16" cy="123.02" r="2.05"/><circle cx="477.34" cy="123.02" r="2.05"/><circle cx="478.52" cy="123.01" r="2.05"/><circle cx="479.71" cy="123.01" r="2.05"/><circle cx="480.89" cy="123" r="2.05"/><circle cx="482.08" cy="122.99" r="2.05"/><circle cx="483.26" cy="122.99" r="2.05"/><circle cx="484.44" cy="122.98" r="2.05"/><circle cx="485.63" cy="122.98" r="2.05"/><circle cx="486.81" cy="122.97" r="2.05"/><circle cx="488" cy="122.97" r="2.05"/><circle cx="489.18" cy="122.96" r="2.05"/><circle cx="490.36" cy="122.96" r="2.05"/><circle cx="491.55" cy="122.95" r="2.05"/><circle cx="492.73" cy="122.95" r="2.05"/><circle cx="493.92" cy="122.94" r="2.05"/><circle cx="495.1" cy="122.94" r="2.05"/><circle cx="496.28" cy="122.93" r="2.05"/><circle cx="497.47" cy="122.93" r="2.05"/><circle cx="498.65" cy="122.92" r="2.05"/><circle cx="499.84" cy="122.92" r="2.05"/><circle cx="501.02" cy="122.91" r="2.05"/><circle cx="502.21" cy="122.91" r="2.05"/><circle cx="503.39" cy="122.9" r="2.05"/><circle cx="504.57" cy="122.9" r="2.05"/><circle cx="505.76" cy="122.89" r="2.05"/><circle cx="506.94" cy="122.89" r="2.05"/><circle cx="508.13" cy="122.88" r="2.05"/><circle cx="509.31" cy="122.88" r="2.05"/><circle cx="510.49" cy="122.87" r="2.05"/><circle cx="511.68" cy="122.87" r="2.05"/><circle cx="512.86" cy="122.86" r="2.05"/><circle cx="514.05" cy="122.86" r="2.05"/><circle cx="515.23" cy="122.85" r="2.05"/><circle cx="516.41" cy="122.85" r="2.05"/><circle cx="517.6" cy="122.85" r="2.05"/><circle cx="518.78" cy="122.84" r="2.05"/><circle cx="519.97" cy="122.84" r="2.05"/></g>
<g stroke-width="1.5"><path d="M416.3 215.5h19" stroke="#2a48c4"/><path d="M416.3 245.5h19" stroke="#d4472f"/><path d="M416.3 274.5h19" stroke="#36a136"/></g>
<circle cx="425.9" cy="301.7" r="2.05" fill="#000"/>
<g stroke="#000" stroke-width="1.1" fill="none"><path d="M106.05 584.5H579.7" stroke-dasharray="3.4 1.65"/><path d="M106.05 525H579.7" stroke-dasharray="3.4 1.65"/><path d="M106.05 465.5H579.7" stroke-dasharray="3.4 1.65"/><path d="M106.05 406H579.7" stroke-dasharray="3.4 1.65"/><path d="M106.05 346.5H579.7" stroke-dasharray="3.4 1.65"/><path d="M200.78 322.5V644" stroke-dasharray="3.3 1.75"/><path d="M295.51 322.5V644" stroke-dasharray="3.3 1.75"/><path d="M390.24 322.5V644" stroke-dasharray="3.3 1.75"/><path d="M484.97 322.5V644" stroke-dasharray="3.3 1.75"/></g>
<path d="M106.05 638.05h6.5M579.7 638.05h-6.5M106.05 632.1h6.5M579.7 632.1h-6.5M106.05 626.15h6.5M579.7 626.15h-6.5M106.05 620.2h6.5M579.7 620.2h-6.5M106.05 614.25h6.5M579.7 614.25h-6.5M106.05 608.3h6.5M579.7 608.3h-6.5M106.05 602.35h6.5M579.7 602.35h-6.5M106.05 596.4h6.5M579.7 596.4h-6.5M106.05 590.45h6.5M579.7 590.45h-6.5M106.05 578.55h6.5M579.7 578.55h-6.5M106.05 572.6h6.5M579.7 572.6h-6.5M106.05 566.65h6.5M579.7 566.65h-6.5M106.05 560.7h6.5M579.7 560.7h-6.5M106.05 554.75h6.5M579.7 554.75h-6.5M106.05 548.8h6.5M579.7 548.8h-6.5M106.05 542.85h6.5M579.7 542.85h-6.5M106.05 536.9h6.5M579.7 536.9h-6.5M106.05 530.95h6.5M579.7 530.95h-6.5M106.05 519.05h6.5M579.7 519.05h-6.5M106.05 513.1h6.5M579.7 513.1h-6.5M106.05 507.15h6.5M579.7 507.15h-6.5M106.05 501.2h6.5M579.7 501.2h-6.5M106.05 495.25h6.5M579.7 495.25h-6.5M106.05 489.3h6.5M579.7 489.3h-6.5M106.05 483.35h6.5M579.7 483.35h-6.5M106.05 477.4h6.5M579.7 477.4h-6.5M106.05 471.45h6.5M579.7 471.45h-6.5M106.05 459.55h6.5M579.7 459.55h-6.5M106.05 453.6h6.5M579.7 453.6h-6.5M106.05 447.65h6.5M579.7 447.65h-6.5M106.05 441.7h6.5M579.7 441.7h-6.5M106.05 435.75h6.5M579.7 435.75h-6.5M106.05 429.8h6.5M579.7 429.8h-6.5M106.05 423.85h6.5M579.7 423.85h-6.5M106.05 417.9h6.5M579.7 417.9h-6.5M106.05 411.95h6.5M579.7 411.95h-6.5M106.05 400.05h6.5M579.7 400.05h-6.5M106.05 394.1h6.5M579.7 394.1h-6.5M106.05 388.15h6.5M579.7 388.15h-6.5M106.05 382.2h6.5M579.7 382.2h-6.5M106.05 376.25h6.5M579.7 376.25h-6.5M106.05 370.3h6.5M579.7 370.3h-6.5M106.05 364.35h6.5M579.7 364.35h-6.5M106.05 358.4h6.5M579.7 358.4h-6.5M106.05 352.45h6.5M579.7 352.45h-6.5M106.05 340.55h6.5M579.7 340.55h-6.5M106.05 334.6h6.5M579.7 334.6h-6.5M106.05 328.65h6.5M579.7 328.65h-6.5M129.73 644v-5.0M129.73 322.5v5.0M153.41 644v-5.0M153.41 322.5v5.0M177.1 644v-5.0M177.1 322.5v5.0M224.46 644v-5.0M224.46 322.5v5.0M248.14 644v-5.0M248.14 322.5v5.0M271.83 644v-5.0M271.83 322.5v5.0M319.19 644v-5.0M319.19 322.5v5.0M342.88 644v-5.0M342.88 322.5v5.0M366.56 644v-5.0M366.56 322.5v5.0M413.92 644v-5.0M413.92 322.5v5.0M437.61 644v-5.0M437.61 322.5v5.0M461.29 644v-5.0M461.29 322.5v5.0M508.65 644v-5.0M508.65 322.5v5.0M532.34 644v-5.0M532.34 322.5v5.0M556.02 644v-5.0M556.02 322.5v5.0" stroke="#000" stroke-width="1.15" fill="none"/>
<rect x="106.05" y="322.5" width="473.65" height="321.5" fill="none" stroke="#000" stroke-width="1.6"/>
<g fill="none" stroke-width="1.45" stroke-linejoin="round">
<path d="M106.05 644 106.11 639.34 106.17 636.09 106.23 633.23 106.29 630.59 106.35 628.11 106.41 625.76 106.48 623.5 106.54 621.32 106.6 619.22 106.66 617.17 106.72 615.18 106.78 613.24 106.84 611.34 106.9 609.49 106.96 607.67 107.02 605.89 107.08 604.14 107.14 602.42 107.2 600.73 107.26 599.07 107.33 597.43 107.39 595.82 107.45 594.24 107.51 592.68 107.57 591.14 107.63 589.62 107.69 588.12 107.75 586.65 107.81 585.19 107.87 583.75 107.93 582.33 107.99 580.93 108.05 579.54 108.11 578.17 108.18 576.82 108.24 575.48 108.3 574.16 108.36 572.86 108.42 571.57 108.66 566.61 108.9 561.87 109.14 557.32 109.38 552.95 109.62 548.76 109.86 544.72 110.09 540.83 110.33 537.08 110.57 533.47 110.81 529.99 111.05 526.63 111.29 523.39 111.53 520.26 111.77 517.23 112.01 514.31 112.25 511.48 112.49 508.74 112.73 506.1 112.97 503.53 113.21 501.05 113.45 498.65 113.69 496.33 113.93 494.07 114.17 491.88 114.41 489.76 114.64 487.71 114.88 485.71 115.12 483.78 115.36 481.9 115.6 480.07 115.84 478.3 116.08 476.58 116.32 474.9 116.56 473.28 116.8 471.7 117.04 470.16 117.28 468.66 117.52 467.21 117.76 465.79 118 464.41 118.24 463.07 118.48 461.76 118.72 460.49 118.96 459.24 119.2 458.04 119.43 456.86 119.67 455.71 119.91 454.59 120.15 453.49 120.39 452.43 120.63 451.39 120.87 450.37 121.11 449.38 121.35 448.41 121.59 447.47 121.83 446.54 122.07 445.64 122.31 444.76 122.55 443.9 122.79 443.06 123.03 442.24 123.27 441.43 123.51 440.65 123.75 439.88 123.98 439.12 124.22 438.39 124.46 437.67 124.7 436.96 124.94 436.27 125.18 435.6 125.42 434.93 125.66 434.29 125.9 433.65 126.14 433.03 126.38 432.42 126.62 431.82 126.86 431.24 127.1 430.66 127.34 430.1 127.58 429.55 127.82 429 128.06 428.47 128.3 427.95 128.54 427.44 128.77 426.94 129.01 426.44 129.25 425.96 129.49 425.48 129.73 425.02 132.53 420.13 135.33 416.12 138.13 412.78 140.93 409.98 143.72 407.64 146.52 405.65 149.32 403.92 152.12 402.42 154.92 401.1 157.72 399.93 160.51 398.89 163.31 397.96 166.11 397.12 168.91 396.37 171.71 395.69 174.51 395.06 177.3 394.5 180.1 393.97 182.9 393.5 185.7 393.05 188.5 392.65 191.3 392.27 194.09 391.92 196.89 391.59 199.69 391.28 202.49 391 205.29 390.73 208.09 390.48 210.88 390.24 213.68 390.02 216.48 389.81 219.28 389.61 222.08 389.42 224.88 389.25 227.67 389.08 230.47 388.92 233.27 388.77 236.07 388.62 238.87 388.48 241.67 388.35 244.46 388.22 247.26 388.1 250.06 387.99 252.86 387.88 255.66 387.77 258.46 387.67 261.25 387.57 264.05 387.48 266.85 387.38 269.65 387.3 272.45 387.21 275.25 387.13 278.04 387.05 280.84 386.98 283.64 386.9 286.44 386.83 289.24 386.77 292.04 386.7 294.83 386.64 297.63 386.57 300.43 386.51 303.23 386.45 306.03 386.4 308.83 386.34 311.62 386.29 314.42 386.24 317.22 386.19 320.02 386.14 322.82 386.09 325.62 386.04 328.41 386 331.21 385.95 334.01 385.91 336.81 385.87 339.61 385.83 342.41 385.79 345.2 385.75 348 385.71 350.8 385.67 353.6 385.63 356.4 385.6 359.2 385.56 361.99 385.53 364.79 385.5 367.59 385.46 370.39 385.43 373.19 385.4 375.99 385.37 378.78 385.34 381.58 385.31 384.38 385.28 387.18 385.25 389.98 385.22 392.78 385.19 395.57 385.17 398.37 385.14 401.17 385.11 403.97 385.09 406.77 385.06 409.57 385.04 412.36 385.01 415.16 384.99 417.96 384.97 420.76 384.94 423.56 384.92 426.36 384.9 429.15 384.88 431.95 384.85 434.75 384.83 437.55 384.81 440.35 384.79 443.15 384.77 445.94 384.75 448.74 384.73 451.54 384.71 454.34 384.69 457.14 384.67 459.94 384.65 462.73 384.63 465.53 384.62 468.33 384.6 471.13 384.58 473.93 384.56 476.73 384.55 479.52 384.53 482.32 384.51 485.12 384.49 487.92 384.48 490.72 384.46 493.52 384.45 496.31 384.43 499.11 384.41 501.91 384.4 504.71 384.38 507.51 384.37 510.31 384.35 513.1 384.34 515.9 384.32 518.7 384.31" stroke="#2a48c4"/>
<path d="M106.05 644 106.11 642.59 106.17 641.19 106.23 639.8 106.29 638.44 106.35 637.1 106.41 635.78 106.48 634.48 106.54 633.2 106.6 631.94 106.66 630.7 106.72 629.48 106.78 628.29 106.84 627.1 106.9 625.94 106.96 624.8 107.02 623.67 107.08 622.56 107.14 621.46 107.2 620.39 107.26 619.32 107.33 618.28 107.39 617.24 107.45 616.23 107.51 615.22 107.57 614.23 107.63 613.26 107.69 612.3 107.75 611.35 107.81 610.41 107.87 609.49 107.93 608.57 107.99 607.67 108.05 606.79 108.11 605.91 108.18 605.04 108.24 604.19 108.3 603.35 108.36 602.51 108.42 601.69 108.66 598.54 108.9 595.54 109.14 592.67 109.38 589.93 109.62 587.31 109.86 584.8 110.09 582.39 110.33 580.07 110.57 577.85 110.81 575.71 111.05 573.65 111.29 571.66 111.53 569.75 111.77 567.9 112.01 566.12 112.25 564.4 112.49 562.73 112.73 561.12 112.97 559.56 113.21 558.05 113.45 556.58 113.69 555.16 113.93 553.79 114.17 552.45 114.41 551.15 114.64 549.89 114.88 548.66 115.12 547.47 115.36 546.31 115.6 545.18 115.84 544.08 116.08 543 116.32 541.96 116.56 540.94 116.8 539.95 117.04 538.98 117.28 538.04 117.52 537.12 117.76 536.22 118 535.34 118.24 534.48 118.48 533.64 118.72 532.82 118.96 532.01 119.2 531.23 119.43 530.46 119.67 529.71 119.91 528.97 120.15 528.25 120.39 527.55 120.63 526.86 120.87 526.18 121.11 525.52 121.35 524.87 121.59 524.23 121.83 523.61 122.07 522.99 122.31 522.39 122.55 521.8 122.79 521.22 123.03 520.65 123.27 520.1 123.51 519.55 123.75 519.01 123.98 518.48 124.22 517.96 124.46 517.45 124.7 516.95 124.94 516.46 125.18 515.97 125.42 515.5 125.66 515.03 125.9 514.57 126.14 514.11 126.38 513.67 126.62 513.23 126.86 512.8 127.1 512.37 127.34 511.96 127.58 511.54 127.82 511.14 128.06 510.74 128.3 510.35 128.54 509.96 128.77 509.58 129.01 509.21 129.25 508.84 129.49 508.47 129.73 508.11 132.53 504.27 135.33 500.98 138.13 498.12 140.93 495.61 143.72 493.39 146.52 491.41 149.32 489.64 152.12 488.05 154.92 486.6 157.72 485.29 160.51 484.09 163.31 482.98 166.11 481.96 168.91 481.02 171.71 480.15 174.51 479.34 177.3 478.58 180.1 477.88 182.9 477.22 185.7 476.59 188.5 476.01 191.3 475.46 194.09 474.94 196.89 474.45 199.69 473.98 202.49 473.54 205.29 473.12 208.09 472.72 210.88 472.34 213.68 471.98 216.48 471.63 219.28 471.3 222.08 470.99 224.88 470.68 227.67 470.39 230.47 470.11 233.27 469.85 236.07 469.59 238.87 469.34 241.67 469.11 244.46 468.88 247.26 468.66 250.06 468.45 252.86 468.24 255.66 468.04 258.46 467.85 261.25 467.67 264.05 467.49 266.85 467.31 269.65 467.15 272.45 466.98 275.25 466.83 278.04 466.67 280.84 466.53 283.64 466.38 286.44 466.24 289.24 466.11 292.04 465.98 294.83 465.85 297.63 465.72 300.43 465.6 303.23 465.48 306.03 465.37 308.83 465.26 311.62 465.15 314.42 465.04 317.22 464.94 320.02 464.84 322.82 464.74 325.62 464.64 328.41 464.55 331.21 464.46 334.01 464.37 336.81 464.28 339.61 464.2 342.41 464.11 345.2 464.03 348 463.95 350.8 463.87 353.6 463.8 356.4 463.72 359.2 463.65 361.99 463.58 364.79 463.51 367.59 463.44 370.39 463.37 373.19 463.3 375.99 463.24 378.78 463.18 381.58 463.11 384.38 463.05 387.18 462.99 389.98 462.93 392.78 462.88 395.57 462.82 398.37 462.76 401.17 462.71 403.97 462.66 406.77 462.6 409.57 462.55 412.36 462.5 415.16 462.45 417.96 462.4 420.76 462.36 423.56 462.31 426.36 462.26 429.15 462.22 431.95 462.17 434.75 462.13 437.55 462.09 440.35 462.04 443.15 462 445.94 461.96 448.74 461.92 451.54 461.88 454.34 461.84 457.14 461.8 459.94 461.76 462.73 461.73 465.53 461.69 468.33 461.65 471.13 461.62 473.93 461.58 476.73 461.55 479.52 461.51 482.32 461.48 485.12 461.45 487.92 461.41 490.72 461.38 493.52 461.35 496.31 461.32 499.11 461.29 501.91 461.26 504.71 461.23 507.51 461.2 510.31 461.17 513.1 461.14 515.9 461.11 518.7 461.08" stroke="#d4472f"/>
<path d="M106.05 644 106.11 641.63 106.17 639.29 106.23 636.97 106.29 634.69 106.35 632.44 106.41 630.23 106.48 628.04 106.54 625.89 106.6 623.76 106.66 621.67 106.72 619.61 106.78 617.58 106.84 615.58 106.9 613.61 106.96 611.67 107.02 609.76 107.08 607.87 107.14 606.01 107.2 604.18 107.26 602.38 107.33 600.6 107.39 598.85 107.45 597.13 107.51 595.43 107.57 593.75 107.63 592.1 107.69 590.47 107.75 588.87 107.81 587.29 107.87 585.74 107.93 584.2 107.99 582.69 108.05 581.2 108.11 579.74 108.18 578.29 108.24 576.86 108.3 575.46 108.36 574.07 108.42 572.71 108.66 567.52 108.9 562.61 109.14 557.98 109.38 553.6 109.62 549.46 109.86 545.55 110.09 541.84 110.33 538.34 110.57 535.03 110.81 531.89 111.05 528.92 111.29 526.11 111.53 523.44 111.77 520.92 112.01 518.53 112.25 516.26 112.49 514.11 112.73 512.07 112.97 510.13 113.21 508.29 113.45 506.55 113.69 504.89 113.93 503.32 114.17 501.83 114.41 500.41 114.64 499.06 114.88 497.77 115.12 496.56 115.36 495.4 115.6 494.29 115.84 493.24 116.08 492.24 116.32 491.29 116.56 490.39 116.8 489.53 117.04 488.7 117.28 487.92 117.52 487.18 117.76 486.47 118 485.79 118.24 485.14 118.48 484.53 118.72 483.94 118.96 483.38 119.2 482.84 119.43 482.33 119.67 481.84 119.91 481.38 120.15 480.93 120.39 480.51 120.63 480.1 120.87 479.71 121.11 479.34 121.35 478.99 121.59 478.65 121.83 478.32 122.07 478.01 122.31 477.71 122.55 477.43 122.79 477.16 123.03 476.9 123.27 476.65 123.51 476.41 123.75 476.18 123.98 475.96 124.22 475.75 124.46 475.55 124.7 475.36 124.94 475.17 125.18 475 125.42 474.83 125.66 474.66 125.9 474.51 126.14 474.36 126.38 474.21 126.62 474.08 126.86 473.94 127.1 473.82 127.34 473.69 127.58 473.58 127.82 473.46 128.06 473.36 128.3 473.25 128.54 473.15 128.77 473.05 129.01 472.96 129.25 472.87 129.49 472.79 129.73 472.7 132.53 471.94 135.33 471.45 138.13 471.12 140.93 470.9 143.72 470.75 146.52 470.66 149.32 470.59 152.12 470.54 154.92 470.51 157.72 470.49 160.51 470.47 163.31 470.46 166.11 470.45 168.91 470.45 171.71 470.44 174.51 470.44 177.3 470.44 180.1 470.44 182.9 470.44 185.7 470.44 188.5 470.44 191.3 470.44 194.09 470.44 196.89 470.44 199.69 470.44 202.49 470.44 205.29 470.44 208.09 470.45 210.88 470.45 213.68 470.45 216.48 470.45 219.28 470.45 222.08 470.45 224.88 470.45 227.67 470.45 230.47 470.46 233.27 470.46 236.07 470.46 238.87 470.46 241.67 470.46 244.46 470.46 247.26 470.46 250.06 470.46 252.86 470.46 255.66 470.47 258.46 470.47 261.25 470.47 264.05 470.47 266.85 470.47 269.65 470.47 272.45 470.47 275.25 470.47 278.04 470.47 280.84 470.47 283.64 470.48 286.44 470.48 289.24 470.48 292.04 470.48 294.83 470.48 297.63 470.48 300.43 470.48 303.23 470.48 306.03 470.48 308.83 470.48 311.62 470.48 314.42 470.49 317.22 470.49 320.02 470.49 322.82 470.49 325.62 470.49 328.41 470.49 331.21 470.49 334.01 470.49 336.81 470.49 339.61 470.49 342.41 470.49 345.2 470.49 348 470.5 350.8 470.5 353.6 470.5 356.4 470.5 359.2 470.5 361.99 470.5 364.79 470.5 367.59 470.5 370.39 470.5 373.19 470.5 375.99 470.5 378.78 470.5 381.58 470.5 384.38 470.5 387.18 470.51 389.98 470.51 392.78 470.51 395.57 470.51 398.37 470.51 401.17 470.51 403.97 470.51 406.77 470.51 409.57 470.51 412.36 470.51 415.16 470.51 417.96 470.51 420.76 470.51 423.56 470.51 426.36 470.51 429.15 470.52 431.95 470.52 434.75 470.52 437.55 470.52 440.35 470.52 443.15 470.52 445.94 470.52 448.74 470.52 451.54 470.52 454.34 470.52 457.14 470.52 459.94 470.52 462.73 470.52 465.53 470.52 468.33 470.52 471.13 470.52 473.93 470.52 476.73 470.53 479.52 470.53 482.32 470.53 485.12 470.53 487.92 470.53 490.72 470.53 493.52 470.53 496.31 470.53 499.11 470.53 501.91 470.53 504.71 470.53 507.51 470.53 510.31 470.53 513.1 470.53 515.9 470.53 518.7 470.53" stroke="#36a136"/>
</g>
<g fill="#000"><circle cx="107.9" cy="583.6" r="2.05"/><circle cx="109.08" cy="555.7" r="2.05"/><circle cx="110.27" cy="535.9" r="2.05"/><circle cx="111.45" cy="519.8" r="2.05"/><circle cx="112.64" cy="508.2" r="2.05"/><circle cx="113.82" cy="498.9" r="2.05"/><circle cx="115" cy="491.2" r="2.05"/><circle cx="116.19" cy="484.8" r="2.05"/><circle cx="117.37" cy="479.5" r="2.05"/><circle cx="118.56" cy="475.3" r="2.05"/><circle cx="119.74" cy="471.4" r="2.05"/><circle cx="120.93" cy="467.7" r="2.05"/><circle cx="122.11" cy="464.97" r="2.05"/><circle cx="123.29" cy="462.57" r="2.05"/><circle cx="124.48" cy="460.45" r="2.05"/><circle cx="125.66" cy="458.57" r="2.05"/><circle cx="126.85" cy="456.88" r="2.05"/><circle cx="128.03" cy="455.35" r="2.05"/><circle cx="129.21" cy="453.97" r="2.05"/><circle cx="130.4" cy="452.72" r="2.05"/><circle cx="131.58" cy="451.58" r="2.05"/><circle cx="132.77" cy="450.53" r="2.05"/><circle cx="133.95" cy="449.57" r="2.05"/><circle cx="135.13" cy="448.69" r="2.05"/><circle cx="136.32" cy="447.88" r="2.05"/><circle cx="137.5" cy="447.13" r="2.05"/><circle cx="138.69" cy="446.43" r="2.05"/><circle cx="139.87" cy="445.78" r="2.05"/><circle cx="141.05" cy="445.18" r="2.05"/><circle cx="142.24" cy="444.62" r="2.05"/><circle cx="143.42" cy="444.09" r="2.05"/><circle cx="144.61" cy="443.59" r="2.05"/><circle cx="145.79" cy="443.12" r="2.05"/><circle cx="146.98" cy="442.68" r="2.05"/><circle cx="148.16" cy="442.26" r="2.05"/><circle cx="149.34" cy="441.87" r="2.05"/><circle cx="150.53" cy="441.49" r="2.05"/><circle cx="151.71" cy="441.14" r="2.05"/><circle cx="152.9" cy="440.8" r="2.05"/><circle cx="154.08" cy="440.48" r="2.05"/><circle cx="155.26" cy="440.17" r="2.05"/><circle cx="156.45" cy="439.88" r="2.05"/><circle cx="157.63" cy="439.61" r="2.05"/><circle cx="158.82" cy="439.34" r="2.05"/><circle cx="160" cy="439.09" r="2.05"/><circle cx="161.18" cy="438.85" r="2.05"/><circle cx="162.37" cy="438.61" r="2.05"/><circle cx="163.55" cy="438.39" r="2.05"/><circle cx="164.74" cy="438.18" r="2.05"/><circle cx="165.92" cy="437.97" r="2.05"/><circle cx="167.11" cy="437.77" r="2.05"/><circle cx="168.29" cy="437.58" r="2.05"/><circle cx="169.47" cy="437.4" r="2.05"/><circle cx="170.66" cy="437.23" r="2.05"/><circle cx="171.84" cy="437.06" r="2.05"/><circle cx="173.03" cy="436.89" r="2.05"/><circle cx="174.21" cy="436.73" r="2.05"/><circle cx="175.39" cy="436.58" r="2.05"/><circle cx="176.58" cy="436.44" r="2.05"/><circle cx="177.76" cy="436.29" r="2.05"/><circle cx="178.95" cy="436.16" r="2.05"/><circle cx="180.13" cy="436.02" r="2.05"/><circle cx="181.31" cy="435.89" r="2.05"/><circle cx="182.5" cy="435.77" r="2.05"/><circle cx="183.68" cy="435.65" r="2.05"/><circle cx="184.87" cy="435.53" r="2.05"/><circle cx="186.05" cy="435.42" r="2.05"/><circle cx="187.23" cy="435.3" r="2.05"/><circle cx="188.42" cy="435.2" r="2.05"/><circle cx="189.6" cy="435.09" r="2.05"/><circle cx="190.79" cy="434.99" r="2.05"/><circle cx="191.97" cy="434.89" r="2.05"/><circle cx="193.16" cy="434.8" r="2.05"/><circle cx="194.34" cy="434.7" r="2.05"/><circle cx="195.52" cy="434.61" r="2.05"/><circle cx="196.71" cy="434.52" r="2.05"/><circle cx="197.89" cy="434.44" r="2.05"/><circle cx="199.08" cy="434.35" r="2.05"/><circle cx="200.26" cy="434.27" r="2.05"/><circle cx="201.44" cy="434.19" r="2.05"/><circle cx="202.63" cy="434.11" r="2.05"/><circle cx="203.81" cy="434.03" r="2.05"/><circle cx="205" cy="433.96" r="2.05"/><circle cx="206.18" cy="433.89" r="2.05"/><circle cx="207.36" cy="433.82" r="2.05"/><circle cx="208.55" cy="433.75" r="2.05"/><circle cx="209.73" cy="433.68" r="2.05"/><circle cx="210.92" cy="433.61" r="2.05"/><circle cx="212.1" cy="433.55" r="2.05"/><circle cx="213.28" cy="433.48" r="2.05"/><circle cx="214.47" cy="433.42" r="2.05"/><circle cx="215.65" cy="433.36" r="2.05"/><circle cx="216.84" cy="433.3" r="2.05"/><circle cx="218.02" cy="433.24" r="2.05"/><circle cx="219.21" cy="433.19" r="2.05"/><circle cx="220.39" cy="433.13" r="2.05"/><circle cx="221.57" cy="433.07" r="2.05"/><circle cx="222.76" cy="433.02" r="2.05"/><circle cx="223.94" cy="432.97" r="2.05"/><circle cx="225.13" cy="432.92" r="2.05"/><circle cx="226.31" cy="432.87" r="2.05"/><circle cx="227.49" cy="432.82" r="2.05"/><circle cx="228.68" cy="432.77" r="2.05"/><circle cx="229.86" cy="432.72" r="2.05"/><circle cx="231.05" cy="432.67" r="2.05"/><circle cx="232.23" cy="432.63" r="2.05"/><circle cx="233.41" cy="432.58" r="2.05"/><circle cx="234.6" cy="432.54" r="2.05"/><circle cx="235.78" cy="432.49" r="2.05"/><circle cx="236.97" cy="432.45" r="2.05"/><circle cx="238.15" cy="432.41" r="2.05"/><circle cx="239.34" cy="432.37" r="2.05"/><circle cx="240.52" cy="432.33" r="2.05"/><circle cx="241.7" cy="432.29" r="2.05"/><circle cx="242.89" cy="432.25" r="2.05"/><circle cx="244.07" cy="432.21" r="2.05"/><circle cx="245.26" cy="432.17" r="2.05"/><circle cx="246.44" cy="432.13" r="2.05"/><circle cx="247.62" cy="432.1" r="2.05"/><circle cx="248.81" cy="432.06" r="2.05"/><circle cx="249.99" cy="432.02" r="2.05"/><circle cx="251.18" cy="431.99" r="2.05"/><circle cx="252.36" cy="431.95" r="2.05"/><circle cx="253.54" cy="431.92" r="2.05"/><circle cx="254.73" cy="431.89" r="2.05"/><circle cx="255.91" cy="431.85" r="2.05"/><circle cx="257.1" cy="431.82" r="2.05"/><circle cx="258.28" cy="431.79" r="2.05"/><circle cx="259.46" cy="431.76" r="2.05"/><circle cx="260.65" cy="431.73" r="2.05"/><circle cx="261.83" cy="431.69" r="2.05"/><circle cx="263.02" cy="431.66" r="2.05"/><circle cx="264.2" cy="431.63" r="2.05"/><circle cx="265.39" cy="431.61" r="2.05"/><circle cx="266.57" cy="431.58" r="2.05"/><circle cx="267.75" cy="431.55" r="2.05"/><circle cx="268.94" cy="431.52" r="2.05"/><circle cx="270.12" cy="431.49" r="2.05"/><circle cx="271.31" cy="431.46" r="2.05"/><circle cx="272.49" cy="431.44" r="2.05"/><circle cx="273.67" cy="431.41" r="2.05"/><circle cx="274.86" cy="431.38" r="2.05"/><circle cx="276.04" cy="431.36" r="2.05"/><circle cx="277.23" cy="431.33" r="2.05"/><circle cx="278.41" cy="431.31" r="2.05"/><circle cx="279.59" cy="431.28" r="2.05"/><circle cx="280.78" cy="431.26" r="2.05"/><circle cx="281.96" cy="431.23" r="2.05"/><circle cx="283.15" cy="431.21" r="2.05"/><circle cx="284.33" cy="431.19" r="2.05"/><circle cx="285.51" cy="431.16" r="2.05"/><circle cx="286.7" cy="431.14" r="2.05"/><circle cx="287.88" cy="431.12" r="2.05"/><circle cx="289.07" cy="431.09" r="2.05"/><circle cx="290.25" cy="431.07" r="2.05"/><circle cx="291.44" cy="431.05" r="2.05"/><circle cx="292.62" cy="431.03" r="2.05"/><circle cx="293.8" cy="431" r="2.05"/><circle cx="294.99" cy="430.98" r="2.05"/><circle cx="296.17" cy="430.96" r="2.05"/><circle cx="297.36" cy="430.94" r="2.05"/><circle cx="298.54" cy="430.92" r="2.05"/><circle cx="299.72" cy="430.9" r="2.05"/><circle cx="300.91" cy="430.88" r="2.05"/><circle cx="302.09" cy="430.86" r="2.05"/><circle cx="303.28" cy="430.84" r="2.05"/><circle cx="304.46" cy="430.82" r="2.05"/><circle cx="305.64" cy="430.8" r="2.05"/><circle cx="306.83" cy="430.78" r="2.05"/><circle cx="308.01" cy="430.76" r="2.05"/><circle cx="309.2" cy="430.74" r="2.05"/><circle cx="310.38" cy="430.73" r="2.05"/><circle cx="311.57" cy="430.71" r="2.05"/><circle cx="312.75" cy="430.69" r="2.05"/><circle cx="313.93" cy="430.67" r="2.05"/><circle cx="315.12" cy="430.65" r="2.05"/><circle cx="316.3" cy="430.64" r="2.05"/><circle cx="317.49" cy="430.62" r="2.05"/><circle cx="318.67" cy="430.6" r="2.05"/><circle cx="319.85" cy="430.58" r="2.05"/><circle cx="321.04" cy="430.57" r="2.05"/><circle cx="322.22" cy="430.55" r="2.05"/><circle cx="323.41" cy="430.53" r="2.05"/><circle cx="324.59" cy="430.52" r="2.05"/><circle cx="325.77" cy="430.5" r="2.05"/><circle cx="326.96" cy="430.49" r="2.05"/><circle cx="328.14" cy="430.47" r="2.05"/><circle cx="329.33" cy="430.45" r="2.05"/><circle cx="330.51" cy="430.44" r="2.05"/><circle cx="331.69" cy="430.42" r="2.05"/><circle cx="332.88" cy="430.41" r="2.05"/><circle cx="334.06" cy="430.39" r="2.05"/><circle cx="335.25" cy="430.38" r="2.05"/><circle cx="336.43" cy="430.36" r="2.05"/><circle cx="337.62" cy="430.35" r="2.05"/><circle cx="338.8" cy="430.33" r="2.05"/><circle cx="339.98" cy="430.32" r="2.05"/><circle cx="341.17" cy="430.3" r="2.05"/><circle cx="342.35" cy="430.29" r="2.05"/><circle cx="343.54" cy="430.28" r="2.05"/><circle cx="344.72" cy="430.26" r="2.05"/><circle cx="345.9" cy="430.25" r="2.05"/><circle cx="347.09" cy="430.23" r="2.05"/><circle cx="348.27" cy="430.22" r="2.05"/><circle cx="349.46" cy="430.21" r="2.05"/><circle cx="350.64" cy="430.19" r="2.05"/><circle cx="351.82" cy="430.18" r="2.05"/><circle cx="353.01" cy="430.17" r="2.05"/><circle cx="354.19" cy="430.15" r="2.05"/><circle cx="355.38" cy="430.14" r="2.05"/><circle cx="356.56" cy="430.13" r="2.05"/><circle cx="357.75" cy="430.12" r="2.05"/><circle cx="358.93" cy="430.1" r="2.05"/><circle cx="360.11" cy="430.09" r="2.05"/><circle cx="361.3" cy="430.08" r="2.05"/><circle cx="362.48" cy="430.07" r="2.05"/><circle cx="363.67" cy="430.05" r="2.05"/><circle cx="364.85" cy="430.04" r="2.05"/><circle cx="366.03" cy="430.03" r="2.05"/><circle cx="367.22" cy="430.02" r="2.05"/><circle cx="368.4" cy="430.01" r="2.05"/><circle cx="369.59" cy="429.99" r="2.05"/><circle cx="370.77" cy="429.98" r="2.05"/><circle cx="371.95" cy="429.97" r="2.05"/><circle cx="373.14" cy="429.96" r="2.05"/><circle cx="374.32" cy="429.95" r="2.05"/><circle cx="375.51" cy="429.94" r="2.05"/><circle cx="376.69" cy="429.92" r="2.05"/><circle cx="377.87" cy="429.91" r="2.05"/><circle cx="379.06" cy="429.9" r="2.05"/><circle cx="380.24" cy="429.89" r="2.05"/><circle cx="381.43" cy="429.88" r="2.05"/><circle cx="382.61" cy="429.87" r="2.05"/><circle cx="383.8" cy="429.86" r="2.05"/><circle cx="384.98" cy="429.85" r="2.05"/><circle cx="386.16" cy="429.84" r="2.05"/><circle cx="387.35" cy="429.83" r="2.05"/><circle cx="388.53" cy="429.82" r="2.05"/><circle cx="389.72" cy="429.81" r="2.05"/><circle cx="390.9" cy="429.8" r="2.05"/><circle cx="392.08" cy="429.79" r="2.05"/><circle cx="393.27" cy="429.77" r="2.05"/><circle cx="394.45" cy="429.76" r="2.05"/><circle cx="395.64" cy="429.75" r="2.05"/><circle cx="396.82" cy="429.74" r="2.05"/><circle cx="398" cy="429.73" r="2.05"/><circle cx="399.19" cy="429.72" r="2.05"/><circle cx="400.37" cy="429.72" r="2.05"/><circle cx="401.56" cy="429.71" r="2.05"/><circle cx="402.74" cy="429.7" r="2.05"/><circle cx="403.92" cy="429.69" r="2.05"/><circle cx="405.11" cy="429.68" r="2.05"/><circle cx="406.29" cy="429.67" r="2.05"/><circle cx="407.48" cy="429.66" r="2.05"/><circle cx="408.66" cy="429.65" r="2.05"/><circle cx="409.85" cy="429.64" r="2.05"/><circle cx="411.03" cy="429.63" r="2.05"/><circle cx="412.21" cy="429.62" r="2.05"/><circle cx="413.4" cy="429.61" r="2.05"/><circle cx="414.58" cy="429.6" r="2.05"/><circle cx="415.77" cy="429.59" r="2.05"/><circle cx="416.95" cy="429.58" r="2.05"/><circle cx="418.13" cy="429.58" r="2.05"/><circle cx="419.32" cy="429.57" r="2.05"/><circle cx="420.5" cy="429.56" r="2.05"/><circle cx="421.69" cy="429.55" r="2.05"/><circle cx="422.87" cy="429.54" r="2.05"/><circle cx="424.05" cy="429.53" r="2.05"/><circle cx="425.24" cy="429.52" r="2.05"/><circle cx="426.42" cy="429.52" r="2.05"/><circle cx="427.61" cy="429.51" r="2.05"/><circle cx="428.79" cy="429.5" r="2.05"/><circle cx="429.98" cy="429.49" r="2.05"/><circle cx="431.16" cy="429.48" r="2.05"/><circle cx="432.34" cy="429.47" r="2.05"/><circle cx="433.53" cy="429.47" r="2.05"/><circle cx="434.71" cy="429.46" r="2.05"/><circle cx="435.9" cy="429.45" r="2.05"/><circle cx="437.08" cy="429.44" r="2.05"/><circle cx="438.26" cy="429.43" r="2.05"/><circle cx="439.45" cy="429.42" r="2.05"/><circle cx="440.63" cy="429.42" r="2.05"/><circle cx="441.82" cy="429.41" r="2.05"/><circle cx="443" cy="429.4" r="2.05"/><circle cx="444.18" cy="429.39" r="2.05"/><circle cx="445.37" cy="429.39" r="2.05"/><circle cx="446.55" cy="429.38" r="2.05"/><circle cx="447.74" cy="429.37" r="2.05"/><circle cx="448.92" cy="429.36" r="2.05"/><circle cx="450.1" cy="429.35" r="2.05"/><circle cx="451.29" cy="429.35" r="2.05"/><circle cx="452.47" cy="429.34" r="2.05"/><circle cx="453.66" cy="429.33" r="2.05"/><circle cx="454.84" cy="429.32" r="2.05"/><circle cx="456.03" cy="429.32" r="2.05"/><circle cx="457.21" cy="429.31" r="2.05"/><circle cx="458.39" cy="429.3" r="2.05"/><circle cx="459.58" cy="429.3" r="2.05"/><circle cx="460.76" cy="429.29" r="2.05"/><circle cx="461.95" cy="429.28" r="2.05"/><circle cx="463.13" cy="429.27" r="2.05"/><circle cx="464.31" cy="429.27" r="2.05"/><circle cx="465.5" cy="429.26" r="2.05"/><circle cx="466.68" cy="429.25" r="2.05"/><circle cx="467.87" cy="429.25" r="2.05"/><circle cx="469.05" cy="429.24" r="2.05"/><circle cx="470.23" cy="429.23" r="2.05"/><circle cx="471.42" cy="429.22" r="2.05"/><circle cx="472.6" cy="429.22" r="2.05"/><circle cx="473.79" cy="429.21" r="2.05"/><circle cx="474.97" cy="429.2" r="2.05"/><circle cx="476.16" cy="429.2" r="2.05"/><circle cx="477.34" cy="429.19" r="2.05"/><circle cx="478.52" cy="429.18" r="2.05"/><circle cx="479.71" cy="429.18" r="2.05"/><circle cx="480.89" cy="429.17" r="2.05"/><circle cx="482.08" cy="429.16" r="2.05"/><circle cx="483.26" cy="429.16" r="2.05"/><circle cx="484.44" cy="429.15" r="2.05"/><circle cx="485.63" cy="429.14" r="2.05"/><circle cx="486.81" cy="429.14" r="2.05"/><circle cx="488" cy="429.13" r="2.05"/><circle cx="489.18" cy="429.13" r="2.05"/><circle cx="490.36" cy="429.12" r="2.05"/><circle cx="491.55" cy="429.11" r="2.05"/><circle cx="492.73" cy="429.11" r="2.05"/><circle cx="493.92" cy="429.1" r="2.05"/><circle cx="495.1" cy="429.09" r="2.05"/><circle cx="496.28" cy="429.09" r="2.05"/><circle cx="497.47" cy="429.08" r="2.05"/><circle cx="498.65" cy="429.07" r="2.05"/><circle cx="499.84" cy="429.07" r="2.05"/><circle cx="501.02" cy="429.06" r="2.05"/><circle cx="502.21" cy="429.06" r="2.05"/><circle cx="503.39" cy="429.05" r="2.05"/><circle cx="504.57" cy="429.04" r="2.05"/><circle cx="505.76" cy="429.04" r="2.05"/><circle cx="506.94" cy="429.03" r="2.05"/><circle cx="508.13" cy="429.03" r="2.05"/><circle cx="509.31" cy="429.02" r="2.05"/><circle cx="510.49" cy="429.01" r="2.05"/><circle cx="511.68" cy="429.01" r="2.05"/><circle cx="512.86" cy="429" r="2.05"/><circle cx="514.05" cy="429" r="2.05"/><circle cx="515.23" cy="428.99" r="2.05"/><circle cx="516.41" cy="428.99" r="2.05"/><circle cx="517.6" cy="428.98" r="2.05"/><circle cx="518.78" cy="428.97" r="2.05"/><circle cx="519.97" cy="428.97" r="2.05"/></g>
<g stroke-width="1.5"><path d="M416.3 536.5h19" stroke="#2a48c4"/><path d="M416.3 566.5h19" stroke="#d4472f"/><path d="M416.3 596.5h19" stroke="#36a136"/></g>
<circle cx="425.9" cy="623.2" r="2.05" fill="#000"/>
<g stroke="#000" stroke-width="1.1" fill="none"><path d="M106.05 906H579.7" stroke-dasharray="3.4 1.65"/><path d="M106.05 846.5H579.7" stroke-dasharray="3.4 1.65"/><path d="M106.05 787H579.7" stroke-dasharray="3.4 1.65"/><path d="M106.05 727.5H579.7" stroke-dasharray="3.4 1.65"/><path d="M106.05 668H579.7" stroke-dasharray="3.4 1.65"/><path d="M200.78 644V965.5" stroke-dasharray="3.3 1.75"/><path d="M295.51 644V965.5" stroke-dasharray="3.3 1.75"/><path d="M390.24 644V965.5" stroke-dasharray="3.3 1.75"/><path d="M484.97 644V965.5" stroke-dasharray="3.3 1.75"/></g>
<path d="M106.05 959.55h6.5M579.7 959.55h-6.5M106.05 953.6h6.5M579.7 953.6h-6.5M106.05 947.65h6.5M579.7 947.65h-6.5M106.05 941.7h6.5M579.7 941.7h-6.5M106.05 935.75h6.5M579.7 935.75h-6.5M106.05 929.8h6.5M579.7 929.8h-6.5M106.05 923.85h6.5M579.7 923.85h-6.5M106.05 917.9h6.5M579.7 917.9h-6.5M106.05 911.95h6.5M579.7 911.95h-6.5M106.05 900.05h6.5M579.7 900.05h-6.5M106.05 894.1h6.5M579.7 894.1h-6.5M106.05 888.15h6.5M579.7 888.15h-6.5M106.05 882.2h6.5M579.7 882.2h-6.5M106.05 876.25h6.5M579.7 876.25h-6.5M106.05 870.3h6.5M579.7 870.3h-6.5M106.05 864.35h6.5M579.7 864.35h-6.5M106.05 858.4h6.5M579.7 858.4h-6.5M106.05 852.45h6.5M579.7 852.45h-6.5M106.05 840.55h6.5M579.7 840.55h-6.5M106.05 834.6h6.5M579.7 834.6h-6.5M106.05 828.65h6.5M579.7 828.65h-6.5M106.05 822.7h6.5M579.7 822.7h-6.5M106.05 816.75h6.5M579.7 816.75h-6.5M106.05 810.8h6.5M579.7 810.8h-6.5M106.05 804.85h6.5M579.7 804.85h-6.5M106.05 798.9h6.5M579.7 798.9h-6.5M106.05 792.95h6.5M579.7 792.95h-6.5M106.05 781.05h6.5M579.7 781.05h-6.5M106.05 775.1h6.5M579.7 775.1h-6.5M106.05 769.15h6.5M579.7 769.15h-6.5M106.05 763.2h6.5M579.7 763.2h-6.5M106.05 757.25h6.5M579.7 757.25h-6.5M106.05 751.3h6.5M579.7 751.3h-6.5M106.05 745.35h6.5M579.7 745.35h-6.5M106.05 739.4h6.5M579.7 739.4h-6.5M106.05 733.45h6.5M579.7 733.45h-6.5M106.05 721.55h6.5M579.7 721.55h-6.5M106.05 715.6h6.5M579.7 715.6h-6.5M106.05 709.65h6.5M579.7 709.65h-6.5M106.05 703.7h6.5M579.7 703.7h-6.5M106.05 697.75h6.5M579.7 697.75h-6.5M106.05 691.8h6.5M579.7 691.8h-6.5M106.05 685.85h6.5M579.7 685.85h-6.5M106.05 679.9h6.5M579.7 679.9h-6.5M106.05 673.95h6.5M579.7 673.95h-6.5M106.05 662.05h6.5M579.7 662.05h-6.5M106.05 656.1h6.5M579.7 656.1h-6.5M106.05 650.15h6.5M579.7 650.15h-6.5M129.73 965.5v-5.0M129.73 644v5.0M153.41 965.5v-5.0M153.41 644v5.0M177.1 965.5v-5.0M177.1 644v5.0M224.46 965.5v-5.0M224.46 644v5.0M248.14 965.5v-5.0M248.14 644v5.0M271.83 965.5v-5.0M271.83 644v5.0M319.19 965.5v-5.0M319.19 644v5.0M342.88 965.5v-5.0M342.88 644v5.0M366.56 965.5v-5.0M366.56 644v5.0M413.92 965.5v-5.0M413.92 644v5.0M437.61 965.5v-5.0M437.61 644v5.0M461.29 965.5v-5.0M461.29 644v5.0M508.65 965.5v-5.0M508.65 644v5.0M532.34 965.5v-5.0M532.34 644v5.0M556.02 965.5v-5.0M556.02 644v5.0" stroke="#000" stroke-width="1.15" fill="none"/>
<rect x="106.05" y="644" width="473.65" height="321.5" fill="none" stroke="#000" stroke-width="1.6"/>
<g fill="none" stroke-width="1.45" stroke-linejoin="round">
<path d="M106.05 965.5 106.11 959.86 106.17 956.15 106.23 952.93 106.29 950 106.35 947.27 106.41 944.68 106.48 942.21 106.54 939.84 106.6 937.56 106.66 935.34 106.72 933.19 106.78 931.1 106.84 929.06 106.9 927.06 106.96 925.11 107.02 923.2 107.08 921.32 107.14 919.48 107.2 917.67 107.26 915.89 107.33 914.14 107.39 912.42 107.45 910.72 107.51 909.05 107.57 907.41 107.63 905.78 107.69 904.18 107.75 902.6 107.81 901.04 107.87 899.5 107.93 897.98 107.99 896.47 108.05 894.99 108.11 893.52 108.18 892.07 108.24 890.63 108.3 889.22 108.36 887.81 108.42 886.42 108.66 881.09 108.9 875.97 109.14 871.05 109.38 866.31 109.62 861.74 109.86 857.33 110.09 853.07 110.33 848.95 110.57 844.97 110.81 841.12 111.05 837.39 111.29 833.78 111.53 830.29 111.77 826.9 112.01 823.61 112.25 820.43 112.49 817.34 112.73 814.34 112.97 811.43 113.21 808.6 113.45 805.86 113.69 803.19 113.93 800.6 114.17 798.09 114.41 795.64 114.64 793.26 114.88 790.95 115.12 788.7 115.36 786.51 115.6 784.38 115.84 782.31 116.08 780.29 116.32 778.33 116.56 776.42 116.8 774.56 117.04 772.74 117.28 770.97 117.52 769.25 117.76 767.57 118 765.93 118.24 764.34 118.48 762.78 118.72 761.26 118.96 759.78 119.2 758.34 119.43 756.92 119.67 755.55 119.91 754.2 120.15 752.89 120.39 751.61 120.63 750.36 120.87 749.13 121.11 747.94 121.35 746.77 121.59 745.63 121.83 744.52 122.07 743.43 122.31 742.36 122.55 741.32 122.79 740.3 123.03 739.3 123.27 738.32 123.51 737.37 123.75 736.43 123.98 735.52 124.22 734.62 124.46 733.74 124.7 732.89 124.94 732.04 125.18 731.22 125.42 730.41 125.66 729.62 125.9 728.85 126.14 728.09 126.38 727.34 126.62 726.61 126.86 725.9 127.1 725.2 127.34 724.51 127.58 723.83 127.82 723.17 128.06 722.52 128.3 721.89 128.54 721.26 128.77 720.65 129.01 720.05 129.25 719.46 129.49 718.88 129.73 718.31 132.53 712.37 135.33 707.5 138.13 703.47 140.93 700.08 143.72 697.21 146.52 694.74 149.32 692.6 152.12 690.74 154.92 689.11 157.72 687.68 160.51 686.4 163.31 685.26 166.11 684.24 168.91 683.33 171.71 682.5 174.51 681.74 177.3 681.06 180.1 680.43 182.9 679.86 185.7 679.33 188.5 678.84 191.3 678.39 194.09 677.98 196.89 677.59 199.69 677.23 202.49 676.89 205.29 676.58 208.09 676.29 210.88 676.01 213.68 675.75 216.48 675.51 219.28 675.28 222.08 675.07 224.88 674.86 227.67 674.67 230.47 674.49 233.27 674.31 236.07 674.15 238.87 673.99 241.67 673.84 244.46 673.7 247.26 673.57 250.06 673.44 252.86 673.32 255.66 673.2 258.46 673.08 261.25 672.98 264.05 672.87 266.85 672.77 269.65 672.68 272.45 672.59 275.25 672.5 278.04 672.41 280.84 672.33 283.64 672.25 286.44 672.18 289.24 672.11 292.04 672.04 294.83 671.97 297.63 671.9 300.43 671.84 303.23 671.78 306.03 671.72 308.83 671.66 311.62 671.61 314.42 671.55 317.22 671.5 320.02 671.45 322.82 671.4 325.62 671.35 328.41 671.31 331.21 671.26 334.01 671.22 336.81 671.17 339.61 671.13 342.41 671.09 345.2 671.05 348 671.02 350.8 670.98 353.6 670.94 356.4 670.91 359.2 670.87 361.99 670.84 364.79 670.81 367.59 670.78 370.39 670.74 373.19 670.71 375.99 670.68 378.78 670.66 381.58 670.63 384.38 670.6 387.18 670.57 389.98 670.55 392.78 670.52 395.57 670.5 398.37 670.47 401.17 670.45 403.97 670.42 406.77 670.4 409.57 670.38 412.36 670.35 415.16 670.33 417.96 670.31 420.76 670.29 423.56 670.27 426.36 670.25 429.15 670.23 431.95 670.21 434.75 670.19 437.55 670.17 440.35 670.15 443.15 670.14 445.94 670.12 448.74 670.1 451.54 670.08 454.34 670.07 457.14 670.05 459.94 670.03 462.73 670.02 465.53 670 468.33 669.99 471.13 669.97 473.93 669.96 476.73 669.94 479.52 669.93 482.32 669.91 485.12 669.9 487.92 669.88 490.72 669.87 493.52 669.86 496.31 669.84 499.11 669.83 501.91 669.82 504.71 669.81 507.51 669.79 510.31 669.78 513.1 669.77 515.9 669.76 518.7 669.75" stroke="#2a48c4"/>
<path d="M106.05 965.5 106.11 965.01 106.17 964.27 106.23 963.42 106.29 962.49 106.35 961.5 106.41 960.48 106.48 959.42 106.54 958.34 106.6 957.24 106.66 956.13 106.72 955.01 106.78 953.88 106.84 952.75 106.9 951.61 106.96 950.47 107.02 949.34 107.08 948.2 107.14 947.07 107.2 945.94 107.26 944.82 107.33 943.71 107.39 942.59 107.45 941.49 107.51 940.39 107.57 939.31 107.63 938.22 107.69 937.15 107.75 936.09 107.81 935.03 107.87 933.98 107.93 932.94 107.99 931.91 108.05 930.89 108.11 929.88 108.18 928.87 108.24 927.88 108.3 926.9 108.36 925.92 108.42 924.95 108.66 921.23 108.9 917.64 109.14 914.19 109.38 910.87 109.62 907.67 109.86 904.59 110.09 901.63 110.33 898.78 110.57 896.03 110.81 893.38 111.05 890.82 111.29 888.36 111.53 885.98 111.77 883.68 112.01 881.46 112.25 879.32 112.49 877.24 112.73 875.24 112.97 873.29 113.21 871.41 113.45 869.58 113.69 867.82 113.93 866.1 114.17 864.44 114.41 862.82 114.64 861.25 114.88 859.73 115.12 858.25 115.36 856.81 115.6 855.41 115.84 854.05 116.08 852.72 116.32 851.43 116.56 850.17 116.8 848.95 117.04 847.75 117.28 846.59 117.52 845.45 117.76 844.35 118 843.27 118.24 842.21 118.48 841.18 118.72 840.17 118.96 839.19 119.2 838.23 119.43 837.29 119.67 836.37 119.91 835.47 120.15 834.59 120.39 833.74 120.63 832.89 120.87 832.07 121.11 831.26 121.35 830.47 121.59 829.7 121.83 828.94 122.07 828.2 122.31 827.47 122.55 826.75 122.79 826.05 123.03 825.37 123.27 824.69 123.51 824.03 123.75 823.38 123.98 822.75 124.22 822.12 124.46 821.51 124.7 820.9 124.94 820.31 125.18 819.73 125.42 819.16 125.66 818.6 125.9 818.04 126.14 817.5 126.38 816.97 126.62 816.44 126.86 815.92 127.1 815.41 127.34 814.91 127.58 814.41 127.82 813.92 128.06 813.44 128.3 812.96 128.54 812.49 128.77 812.03 129.01 811.57 129.25 811.12 129.49 810.67 129.73 810.24 132.53 805.58 135.33 801.65 138.13 798.31 140.93 795.46 143.72 793 146.52 790.83 149.32 788.89 152.12 787.14 154.92 785.54 157.72 784.09 160.51 782.76 163.31 781.53 166.11 780.39 168.91 779.34 171.71 778.35 174.51 777.44 177.3 776.58 180.1 775.77 182.9 775.01 185.7 774.3 188.5 773.63 191.3 773 194.09 772.41 196.89 771.85 199.69 771.32 202.49 770.82 205.29 770.35 208.09 769.9 210.88 769.47 213.68 769.06 216.48 768.68 219.28 768.31 222.08 767.95 224.88 767.61 227.67 767.29 230.47 766.98 233.27 766.68 236.07 766.4 238.87 766.13 241.67 765.86 244.46 765.61 247.26 765.37 250.06 765.13 252.86 764.91 255.66 764.69 258.46 764.48 261.25 764.28 264.05 764.09 266.85 763.9 269.65 763.71 272.45 763.54 275.25 763.37 278.04 763.2 280.84 763.04 283.64 762.89 286.44 762.74 289.24 762.59 292.04 762.45 294.83 762.31 297.63 762.18 300.43 762.05 303.23 761.92 306.03 761.8 308.83 761.68 311.62 761.56 314.42 761.45 317.22 761.34 320.02 761.23 322.82 761.13 325.62 761.03 328.41 760.93 331.21 760.83 334.01 760.74 336.81 760.65 339.61 760.56 342.41 760.47 345.2 760.38 348 760.3 350.8 760.22 353.6 760.14 356.4 760.06 359.2 759.99 361.99 759.91 364.79 759.84 367.59 759.77 370.39 759.7 373.19 759.63 375.99 759.57 378.78 759.5 381.58 759.44 384.38 759.38 387.18 759.32 389.98 759.26 392.78 759.2 395.57 759.14 398.37 759.09 401.17 759.03 403.97 758.98 406.77 758.93 409.57 758.87 412.36 758.82 415.16 758.77 417.96 758.72 420.76 758.68 423.56 758.63 426.36 758.58 429.15 758.54 431.95 758.5 434.75 758.45 437.55 758.41 440.35 758.37 443.15 758.33 445.94 758.29 448.74 758.25 451.54 758.21 454.34 758.17 457.14 758.13 459.94 758.1 462.73 758.06 465.53 758.02 468.33 757.99 471.13 757.95 473.93 757.92 476.73 757.89 479.52 757.86 482.32 757.82 485.12 757.79 487.92 757.76 490.72 757.73 493.52 757.7 496.31 757.67 499.11 757.64 501.91 757.61 504.71 757.59 507.51 757.56 510.31 757.53 513.1 757.5 515.9 757.48 518.7 757.45" stroke="#d4472f"/>
<path d="M106.05 965.5 106.11 957.68 106.17 953.32 106.23 949.72 106.29 946.53 106.35 943.62 106.41 940.91 106.48 938.36 106.54 935.94 106.6 933.63 106.66 931.41 106.72 929.27 106.78 927.2 106.84 925.18 106.9 923.23 106.96 921.32 107.02 919.46 107.08 917.65 107.14 915.87 107.2 914.12 107.26 912.42 107.33 910.74 107.39 909.09 107.45 907.47 107.51 905.87 107.57 904.3 107.63 902.75 107.69 901.23 107.75 899.73 107.81 898.24 107.87 896.78 107.93 895.34 107.99 893.91 108.05 892.5 108.11 891.11 108.18 889.73 108.24 888.37 108.3 887.03 108.36 885.7 108.42 884.38 108.66 879.33 108.9 874.47 109.14 869.8 109.38 865.3 109.62 860.96 109.86 856.78 110.09 852.75 110.33 848.86 110.57 845.11 110.81 841.49 111.05 838.01 111.29 834.66 111.53 831.44 111.77 828.34 112.01 825.37 112.25 822.51 112.49 819.78 112.73 817.16 112.97 814.65 113.21 812.25 113.45 809.96 113.69 807.77 113.93 805.68 114.17 803.69 114.41 801.79 114.64 799.98 114.88 798.26 115.12 796.63 115.36 795.07 115.6 793.59 115.84 792.18 116.08 790.84 116.32 789.57 116.56 788.37 116.8 787.22 117.04 786.13 117.28 785.1 117.52 784.12 117.76 783.18 118 782.3 118.24 781.46 118.48 780.66 118.72 779.9 118.96 779.18 119.2 778.5 119.43 777.85 119.67 777.23 119.91 776.64 120.15 776.08 120.39 775.55 120.63 775.04 120.87 774.56 121.11 774.1 121.35 773.67 121.59 773.25 121.83 772.85 122.07 772.47 122.31 772.11 122.55 771.77 122.79 771.44 123.03 771.12 123.27 770.82 123.51 770.53 123.75 770.26 123.98 770 124.22 769.75 124.46 769.51 124.7 769.28 124.94 769.06 125.18 768.85 125.42 768.64 125.66 768.45 125.9 768.26 126.14 768.09 126.38 767.92 126.62 767.75 126.86 767.59 127.1 767.44 127.34 767.3 127.58 767.16 127.82 767.02 128.06 766.89 128.3 766.77 128.54 766.65 128.77 766.53 129.01 766.42 129.25 766.32 129.49 766.21 129.73 766.11 132.53 765.18 135.33 764.55 138.13 764.12 140.93 763.8 143.72 763.57 146.52 763.39 149.32 763.25 152.12 763.15 154.92 763.06 157.72 762.99 160.51 762.94 163.31 762.89 166.11 762.85 168.91 762.82 171.71 762.79 174.51 762.77 177.3 762.75 180.1 762.73 182.9 762.72 185.7 762.71 188.5 762.7 191.3 762.69 194.09 762.68 196.89 762.67 199.69 762.66 202.49 762.66 205.29 762.65 208.09 762.64 210.88 762.64 213.68 762.64 216.48 762.63 219.28 762.63 222.08 762.63 224.88 762.62 227.67 762.62 230.47 762.62 233.27 762.61 236.07 762.61 238.87 762.61 241.67 762.61 244.46 762.61 247.26 762.6 250.06 762.6 252.86 762.6 255.66 762.6 258.46 762.6 261.25 762.6 264.05 762.6 266.85 762.6 269.65 762.59 272.45 762.59 275.25 762.59 278.04 762.59 280.84 762.59 283.64 762.59 286.44 762.59 289.24 762.59 292.04 762.59 294.83 762.59 297.63 762.58 300.43 762.58 303.23 762.58 306.03 762.58 308.83 762.58 311.62 762.58 314.42 762.58 317.22 762.58 320.02 762.58 322.82 762.58 325.62 762.58 328.41 762.58 331.21 762.58 334.01 762.58 336.81 762.58 339.61 762.58 342.41 762.58 345.2 762.57 348 762.57 350.8 762.57 353.6 762.57 356.4 762.57 359.2 762.57 361.99 762.57 364.79 762.57 367.59 762.57 370.39 762.57 373.19 762.57 375.99 762.57 378.78 762.57 381.58 762.57 384.38 762.57 387.18 762.57 389.98 762.57 392.78 762.57 395.57 762.57 398.37 762.57 401.17 762.57 403.97 762.57 406.77 762.57 409.57 762.57 412.36 762.57 415.16 762.56 417.96 762.56 420.76 762.56 423.56 762.56 426.36 762.56 429.15 762.56 431.95 762.56 434.75 762.56 437.55 762.56 440.35 762.56 443.15 762.56 445.94 762.56 448.74 762.56 451.54 762.56 454.34 762.56 457.14 762.56 459.94 762.56 462.73 762.56 465.53 762.56 468.33 762.56 471.13 762.56 473.93 762.56 476.73 762.56 479.52 762.56 482.32 762.56 485.12 762.56 487.92 762.56 490.72 762.56 493.52 762.56 496.31 762.56 499.11 762.56 501.91 762.56 504.71 762.56 507.51 762.56 510.31 762.55 513.1 762.55 515.9 762.55 518.7 762.55" stroke="#36a136"/>
</g>
<g fill="#000"><circle cx="107.9" cy="901.6" r="2.05"/><circle cx="109.08" cy="871" r="2.05"/><circle cx="110.27" cy="847.5" r="2.05"/><circle cx="111.45" cy="829" r="2.05"/><circle cx="112.64" cy="814.4" r="2.05"/><circle cx="113.82" cy="802.4" r="2.05"/><circle cx="115" cy="793.3" r="2.05"/><circle cx="116.19" cy="785.9" r="2.05"/><circle cx="117.37" cy="779.3" r="2.05"/><circle cx="118.56" cy="773.9" r="2.05"/><circle cx="119.74" cy="769.2" r="2.05"/><circle cx="120.93" cy="765.04" r="2.05"/><circle cx="122.11" cy="761.81" r="2.05"/><circle cx="123.29" cy="758.99" r="2.05"/><circle cx="124.48" cy="756.5" r="2.05"/><circle cx="125.66" cy="754.31" r="2.05"/><circle cx="126.85" cy="752.35" r="2.05"/><circle cx="128.03" cy="750.59" r="2.05"/><circle cx="129.21" cy="749" r="2.05"/><circle cx="130.4" cy="747.57" r="2.05"/><circle cx="131.58" cy="746.27" r="2.05"/><circle cx="132.77" cy="745.09" r="2.05"/><circle cx="133.95" cy="744.01" r="2.05"/><circle cx="135.13" cy="743.02" r="2.05"/><circle cx="136.32" cy="742.12" r="2.05"/><circle cx="137.5" cy="741.29" r="2.05"/><circle cx="138.69" cy="740.53" r="2.05"/><circle cx="139.87" cy="739.82" r="2.05"/><circle cx="141.05" cy="739.17" r="2.05"/><circle cx="142.24" cy="738.56" r="2.05"/><circle cx="143.42" cy="738" r="2.05"/><circle cx="144.61" cy="737.47" r="2.05"/><circle cx="145.79" cy="736.98" r="2.05"/><circle cx="146.98" cy="736.51" r="2.05"/><circle cx="148.16" cy="736.08" r="2.05"/><circle cx="149.34" cy="735.66" r="2.05"/><circle cx="150.53" cy="735.27" r="2.05"/><circle cx="151.71" cy="734.91" r="2.05"/><circle cx="152.9" cy="734.56" r="2.05"/><circle cx="154.08" cy="734.23" r="2.05"/><circle cx="155.26" cy="733.92" r="2.05"/><circle cx="156.45" cy="733.62" r="2.05"/><circle cx="157.63" cy="733.34" r="2.05"/><circle cx="158.82" cy="733.07" r="2.05"/><circle cx="160" cy="732.81" r="2.05"/><circle cx="161.18" cy="732.57" r="2.05"/><circle cx="162.37" cy="732.33" r="2.05"/><circle cx="163.55" cy="732.11" r="2.05"/><circle cx="164.74" cy="731.9" r="2.05"/><circle cx="165.92" cy="731.69" r="2.05"/><circle cx="167.11" cy="731.49" r="2.05"/><circle cx="168.29" cy="731.31" r="2.05"/><circle cx="169.47" cy="731.13" r="2.05"/><circle cx="170.66" cy="730.95" r="2.05"/><circle cx="171.84" cy="730.78" r="2.05"/><circle cx="173.03" cy="730.62" r="2.05"/><circle cx="174.21" cy="730.47" r="2.05"/><circle cx="175.39" cy="730.32" r="2.05"/><circle cx="176.58" cy="730.18" r="2.05"/><circle cx="177.76" cy="730.04" r="2.05"/><circle cx="178.95" cy="729.9" r="2.05"/><circle cx="180.13" cy="729.78" r="2.05"/><circle cx="181.31" cy="729.65" r="2.05"/><circle cx="182.5" cy="729.53" r="2.05"/><circle cx="183.68" cy="729.41" r="2.05"/><circle cx="184.87" cy="729.3" r="2.05"/><circle cx="186.05" cy="729.19" r="2.05"/><circle cx="187.23" cy="729.08" r="2.05"/><circle cx="188.42" cy="728.98" r="2.05"/><circle cx="189.6" cy="728.88" r="2.05"/><circle cx="190.79" cy="728.78" r="2.05"/><circle cx="191.97" cy="728.69" r="2.05"/><circle cx="193.16" cy="728.6" r="2.05"/><circle cx="194.34" cy="728.51" r="2.05"/><circle cx="195.52" cy="728.42" r="2.05"/><circle cx="196.71" cy="728.34" r="2.05"/><circle cx="197.89" cy="728.26" r="2.05"/><circle cx="199.08" cy="728.18" r="2.05"/><circle cx="200.26" cy="728.1" r="2.05"/><circle cx="201.44" cy="728.03" r="2.05"/><circle cx="202.63" cy="727.95" r="2.05"/><circle cx="203.81" cy="727.88" r="2.05"/><circle cx="205" cy="727.81" r="2.05"/><circle cx="206.18" cy="727.75" r="2.05"/><circle cx="207.36" cy="727.68" r="2.05"/><circle cx="208.55" cy="727.61" r="2.05"/><circle cx="209.73" cy="727.55" r="2.05"/><circle cx="210.92" cy="727.49" r="2.05"/><circle cx="212.1" cy="727.43" r="2.05"/><circle cx="213.28" cy="727.37" r="2.05"/><circle cx="214.47" cy="727.31" r="2.05"/><circle cx="215.65" cy="727.26" r="2.05"/><circle cx="216.84" cy="727.2" r="2.05"/><circle cx="218.02" cy="727.15" r="2.05"/><circle cx="219.21" cy="727.1" r="2.05"/><circle cx="220.39" cy="727.05" r="2.05"/><circle cx="221.57" cy="726.99" r="2.05"/><circle cx="222.76" cy="726.95" r="2.05"/><circle cx="223.94" cy="726.9" r="2.05"/><circle cx="225.13" cy="726.85" r="2.05"/><circle cx="226.31" cy="726.8" r="2.05"/><circle cx="227.49" cy="726.76" r="2.05"/><circle cx="228.68" cy="726.71" r="2.05"/><circle cx="229.86" cy="726.67" r="2.05"/><circle cx="231.05" cy="726.63" r="2.05"/><circle cx="232.23" cy="726.59" r="2.05"/><circle cx="233.41" cy="726.54" r="2.05"/><circle cx="234.6" cy="726.5" r="2.05"/><circle cx="235.78" cy="726.46" r="2.05"/><circle cx="236.97" cy="726.43" r="2.05"/><circle cx="238.15" cy="726.39" r="2.05"/><circle cx="239.34" cy="726.35" r="2.05"/><circle cx="240.52" cy="726.31" r="2.05"/><circle cx="241.7" cy="726.28" r="2.05"/><circle cx="242.89" cy="726.24" r="2.05"/><circle cx="244.07" cy="726.21" r="2.05"/><circle cx="245.26" cy="726.17" r="2.05"/><circle cx="246.44" cy="726.14" r="2.05"/><circle cx="247.62" cy="726.1" r="2.05"/><circle cx="248.81" cy="726.07" r="2.05"/><circle cx="249.99" cy="726.04" r="2.05"/><circle cx="251.18" cy="726.01" r="2.05"/><circle cx="252.36" cy="725.98" r="2.05"/><circle cx="253.54" cy="725.95" r="2.05"/><circle cx="254.73" cy="725.92" r="2.05"/><circle cx="255.91" cy="725.89" r="2.05"/><circle cx="257.1" cy="725.86" r="2.05"/><circle cx="258.28" cy="725.83" r="2.05"/><circle cx="259.46" cy="725.8" r="2.05"/><circle cx="260.65" cy="725.77" r="2.05"/><circle cx="261.83" cy="725.75" r="2.05"/><circle cx="263.02" cy="725.72" r="2.05"/><circle cx="264.2" cy="725.69" r="2.05"/><circle cx="265.39" cy="725.67" r="2.05"/><circle cx="266.57" cy="725.64" r="2.05"/><circle cx="267.75" cy="725.61" r="2.05"/><circle cx="268.94" cy="725.59" r="2.05"/><circle cx="270.12" cy="725.56" r="2.05"/><circle cx="271.31" cy="725.54" r="2.05"/><circle cx="272.49" cy="725.52" r="2.05"/><circle cx="273.67" cy="725.49" r="2.05"/><circle cx="274.86" cy="725.47" r="2.05"/><circle cx="276.04" cy="725.44" r="2.05"/><circle cx="277.23" cy="725.42" r="2.05"/><circle cx="278.41" cy="725.4" r="2.05"/><circle cx="279.59" cy="725.38" r="2.05"/><circle cx="280.78" cy="725.35" r="2.05"/><circle cx="281.96" cy="725.33" r="2.05"/><circle cx="283.15" cy="725.31" r="2.05"/><circle cx="284.33" cy="725.29" r="2.05"/><circle cx="285.51" cy="725.27" r="2.05"/><circle cx="286.7" cy="725.25" r="2.05"/><circle cx="287.88" cy="725.23" r="2.05"/><circle cx="289.07" cy="725.21" r="2.05"/><circle cx="290.25" cy="725.19" r="2.05"/><circle cx="291.44" cy="725.17" r="2.05"/><circle cx="292.62" cy="725.15" r="2.05"/><circle cx="293.8" cy="725.13" r="2.05"/><circle cx="294.99" cy="725.11" r="2.05"/><circle cx="296.17" cy="725.09" r="2.05"/><circle cx="297.36" cy="725.07" r="2.05"/><circle cx="298.54" cy="725.06" r="2.05"/><circle cx="299.72" cy="725.04" r="2.05"/><circle cx="300.91" cy="725.02" r="2.05"/><circle cx="302.09" cy="725" r="2.05"/><circle cx="303.28" cy="724.98" r="2.05"/><circle cx="304.46" cy="724.97" r="2.05"/><circle cx="305.64" cy="724.95" r="2.05"/><circle cx="306.83" cy="724.93" r="2.05"/><circle cx="308.01" cy="724.92" r="2.05"/><circle cx="309.2" cy="724.9" r="2.05"/><circle cx="310.38" cy="724.88" r="2.05"/><circle cx="311.57" cy="724.87" r="2.05"/><circle cx="312.75" cy="724.85" r="2.05"/><circle cx="313.93" cy="724.83" r="2.05"/><circle cx="315.12" cy="724.82" r="2.05"/><circle cx="316.3" cy="724.8" r="2.05"/><circle cx="317.49" cy="724.79" r="2.05"/><circle cx="318.67" cy="724.77" r="2.05"/><circle cx="319.85" cy="724.76" r="2.05"/><circle cx="321.04" cy="724.74" r="2.05"/><circle cx="322.22" cy="724.73" r="2.05"/><circle cx="323.41" cy="724.71" r="2.05"/><circle cx="324.59" cy="724.7" r="2.05"/><circle cx="325.77" cy="724.68" r="2.05"/><circle cx="326.96" cy="724.67" r="2.05"/><circle cx="328.14" cy="724.65" r="2.05"/><circle cx="329.33" cy="724.64" r="2.05"/><circle cx="330.51" cy="724.63" r="2.05"/><circle cx="331.69" cy="724.61" r="2.05"/><circle cx="332.88" cy="724.6" r="2.05"/><circle cx="334.06" cy="724.59" r="2.05"/><circle cx="335.25" cy="724.57" r="2.05"/><circle cx="336.43" cy="724.56" r="2.05"/><circle cx="337.62" cy="724.55" r="2.05"/><circle cx="338.8" cy="724.53" r="2.05"/><circle cx="339.98" cy="724.52" r="2.05"/><circle cx="341.17" cy="724.51" r="2.05"/><circle cx="342.35" cy="724.49" r="2.05"/><circle cx="343.54" cy="724.48" r="2.05"/><circle cx="344.72" cy="724.47" r="2.05"/><circle cx="345.9" cy="724.46" r="2.05"/><circle cx="347.09" cy="724.44" r="2.05"/><circle cx="348.27" cy="724.43" r="2.05"/><circle cx="349.46" cy="724.42" r="2.05"/><circle cx="350.64" cy="724.41" r="2.05"/><circle cx="351.82" cy="724.4" r="2.05"/><circle cx="353.01" cy="724.38" r="2.05"/><circle cx="354.19" cy="724.37" r="2.05"/><circle cx="355.38" cy="724.36" r="2.05"/><circle cx="356.56" cy="724.35" r="2.05"/><circle cx="357.75" cy="724.34" r="2.05"/><circle cx="358.93" cy="724.33" r="2.05"/><circle cx="360.11" cy="724.32" r="2.05"/><circle cx="361.3" cy="724.3" r="2.05"/><circle cx="362.48" cy="724.29" r="2.05"/><circle cx="363.67" cy="724.28" r="2.05"/><circle cx="364.85" cy="724.27" r="2.05"/><circle cx="366.03" cy="724.26" r="2.05"/><circle cx="367.22" cy="724.25" r="2.05"/><circle cx="368.4" cy="724.24" r="2.05"/><circle cx="369.59" cy="724.23" r="2.05"/><circle cx="370.77" cy="724.22" r="2.05"/><circle cx="371.95" cy="724.21" r="2.05"/><circle cx="373.14" cy="724.2" r="2.05"/><circle cx="374.32" cy="724.19" r="2.05"/><circle cx="375.51" cy="724.18" r="2.05"/><circle cx="376.69" cy="724.17" r="2.05"/><circle cx="377.87" cy="724.16" r="2.05"/><circle cx="379.06" cy="724.15" r="2.05"/><circle cx="380.24" cy="724.14" r="2.05"/><circle cx="381.43" cy="724.13" r="2.05"/><circle cx="382.61" cy="724.12" r="2.05"/><circle cx="383.8" cy="724.11" r="2.05"/><circle cx="384.98" cy="724.1" r="2.05"/><circle cx="386.16" cy="724.09" r="2.05"/><circle cx="387.35" cy="724.08" r="2.05"/><circle cx="388.53" cy="724.07" r="2.05"/><circle cx="389.72" cy="724.06" r="2.05"/><circle cx="390.9" cy="724.05" r="2.05"/><circle cx="392.08" cy="724.04" r="2.05"/><circle cx="393.27" cy="724.03" r="2.05"/><circle cx="394.45" cy="724.02" r="2.05"/><circle cx="395.64" cy="724.01" r="2.05"/><circle cx="396.82" cy="724.01" r="2.05"/><circle cx="398" cy="724" r="2.05"/><circle cx="399.19" cy="723.99" r="2.05"/><circle cx="400.37" cy="723.98" r="2.05"/><circle cx="401.56" cy="723.97" r="2.05"/><circle cx="402.74" cy="723.96" r="2.05"/><circle cx="403.92" cy="723.95" r="2.05"/><circle cx="405.11" cy="723.94" r="2.05"/><circle cx="406.29" cy="723.94" r="2.05"/><circle cx="407.48" cy="723.93" r="2.05"/><circle cx="408.66" cy="723.92" r="2.05"/><circle cx="409.85" cy="723.91" r="2.05"/><circle cx="411.03" cy="723.9" r="2.05"/><circle cx="412.21" cy="723.89" r="2.05"/><circle cx="413.4" cy="723.88" r="2.05"/><circle cx="414.58" cy="723.88" r="2.05"/><circle cx="415.77" cy="723.87" r="2.05"/><circle cx="416.95" cy="723.86" r="2.05"/><circle cx="418.13" cy="723.85" r="2.05"/><circle cx="419.32" cy="723.84" r="2.05"/><circle cx="420.5" cy="723.84" r="2.05"/><circle cx="421.69" cy="723.83" r="2.05"/><circle cx="422.87" cy="723.82" r="2.05"/><circle cx="424.05" cy="723.81" r="2.05"/><circle cx="425.24" cy="723.8" r="2.05"/><circle cx="426.42" cy="723.8" r="2.05"/><circle cx="427.61" cy="723.79" r="2.05"/><circle cx="428.79" cy="723.78" r="2.05"/><circle cx="429.98" cy="723.77" r="2.05"/><circle cx="431.16" cy="723.77" r="2.05"/><circle cx="432.34" cy="723.76" r="2.05"/><circle cx="433.53" cy="723.75" r="2.05"/><circle cx="434.71" cy="723.74" r="2.05"/><circle cx="435.9" cy="723.74" r="2.05"/><circle cx="437.08" cy="723.73" r="2.05"/><circle cx="438.26" cy="723.72" r="2.05"/><circle cx="439.45" cy="723.71" r="2.05"/><circle cx="440.63" cy="723.71" r="2.05"/><circle cx="441.82" cy="723.7" r="2.05"/><circle cx="443" cy="723.69" r="2.05"/><circle cx="444.18" cy="723.69" r="2.05"/><circle cx="445.37" cy="723.68" r="2.05"/><circle cx="446.55" cy="723.67" r="2.05"/><circle cx="447.74" cy="723.66" r="2.05"/><circle cx="448.92" cy="723.66" r="2.05"/><circle cx="450.1" cy="723.65" r="2.05"/><circle cx="451.29" cy="723.64" r="2.05"/><circle cx="452.47" cy="723.64" r="2.05"/><circle cx="453.66" cy="723.63" r="2.05"/><circle cx="454.84" cy="723.62" r="2.05"/><circle cx="456.03" cy="723.62" r="2.05"/><circle cx="457.21" cy="723.61" r="2.05"/><circle cx="458.39" cy="723.6" r="2.05"/><circle cx="459.58" cy="723.59" r="2.05"/><circle cx="460.76" cy="723.59" r="2.05"/><circle cx="461.95" cy="723.58" r="2.05"/><circle cx="463.13" cy="723.57" r="2.05"/><circle cx="464.31" cy="723.57" r="2.05"/><circle cx="465.5" cy="723.56" r="2.05"/><circle cx="466.68" cy="723.56" r="2.05"/><circle cx="467.87" cy="723.55" r="2.05"/><circle cx="469.05" cy="723.54" r="2.05"/><circle cx="470.23" cy="723.54" r="2.05"/><circle cx="471.42" cy="723.53" r="2.05"/><circle cx="472.6" cy="723.52" r="2.05"/><circle cx="473.79" cy="723.52" r="2.05"/><circle cx="474.97" cy="723.51" r="2.05"/><circle cx="476.16" cy="723.5" r="2.05"/><circle cx="477.34" cy="723.5" r="2.05"/><circle cx="478.52" cy="723.49" r="2.05"/><circle cx="479.71" cy="723.49" r="2.05"/><circle cx="480.89" cy="723.48" r="2.05"/><circle cx="482.08" cy="723.47" r="2.05"/><circle cx="483.26" cy="723.47" r="2.05"/><circle cx="484.44" cy="723.46" r="2.05"/><circle cx="485.63" cy="723.45" r="2.05"/><circle cx="486.81" cy="723.45" r="2.05"/><circle cx="488" cy="723.44" r="2.05"/><circle cx="489.18" cy="723.44" r="2.05"/><circle cx="490.36" cy="723.43" r="2.05"/><circle cx="491.55" cy="723.42" r="2.05"/><circle cx="492.73" cy="723.42" r="2.05"/><circle cx="493.92" cy="723.41" r="2.05"/><circle cx="495.1" cy="723.41" r="2.05"/><circle cx="496.28" cy="723.4" r="2.05"/><circle cx="497.47" cy="723.39" r="2.05"/><circle cx="498.65" cy="723.39" r="2.05"/><circle cx="499.84" cy="723.38" r="2.05"/><circle cx="501.02" cy="723.38" r="2.05"/><circle cx="502.21" cy="723.37" r="2.05"/><circle cx="503.39" cy="723.37" r="2.05"/><circle cx="504.57" cy="723.36" r="2.05"/><circle cx="505.76" cy="723.35" r="2.05"/><circle cx="506.94" cy="723.35" r="2.05"/><circle cx="508.13" cy="723.34" r="2.05"/><circle cx="509.31" cy="723.34" r="2.05"/><circle cx="510.49" cy="723.33" r="2.05"/><circle cx="511.68" cy="723.33" r="2.05"/><circle cx="512.86" cy="723.32" r="2.05"/><circle cx="514.05" cy="723.32" r="2.05"/><circle cx="515.23" cy="723.31" r="2.05"/><circle cx="516.41" cy="723.3" r="2.05"/><circle cx="517.6" cy="723.3" r="2.05"/><circle cx="518.78" cy="723.3" r="2.05"/><circle cx="519.97" cy="723.29" r="2.05"/></g>
<g stroke-width="1.5"><path d="M416.3 858.5h19" stroke="#2a48c4"/><path d="M416.3 888.5h19" stroke="#d4472f"/><path d="M416.3 917.5h19" stroke="#36a136"/></g>
<circle cx="425.9" cy="944.7" r="2.05" fill="#000"/>
<g fill="#000">
<text font-family="'DejaVu Sans', sans-serif" font-weight="200" stroke="#000" stroke-width="0.2" font-size="20.8" text-anchor="end" transform="translate(98.90 322.80) scale(1.06 1)">0.0</text>
<text font-family="'DejaVu Sans', sans-serif" font-weight="200" stroke="#000" stroke-width="0.2" font-size="20.8" text-anchor="end" transform="translate(98.90 272.10) scale(1.06 1)">0.1</text>
<text font-family="'DejaVu Sans', sans-serif" font-weight="200" stroke="#000" stroke-width="0.2" font-size="20.8" text-anchor="end" transform="translate(98.90 212.60) scale(1.06 1)">0.2</text>
<text font-family="'DejaVu Sans', sans-serif" font-weight="200" stroke="#000" stroke-width="0.2" font-size="20.8" text-anchor="end" transform="translate(98.90 153.10) scale(1.06 1)">0.3</text>
<text font-family="'DejaVu Sans', sans-serif" font-weight="200" stroke="#000" stroke-width="0.2" font-size="20.8" text-anchor="end" transform="translate(98.90 93.60) scale(1.06 1)">0.4</text>
<text font-family="'DejaVu Sans', sans-serif" font-weight="200" stroke="#000" stroke-width="0.2" font-size="20.8" text-anchor="end" transform="translate(98.90 34.10) scale(1.06 1)">0.5</text>
<text font-family="'DejaVu Sans', sans-serif" font-weight="200" stroke="#000" stroke-width="0.2" font-size="20.6" transform="translate(439.50 221.70) scale(0.95 1)">ODE</text>
<text font-family="'DejaVu Sans', sans-serif" font-weight="200" stroke="#000" stroke-width="0.2" font-size="20.6" transform="translate(438.50 251.50) scale(0.95 1)">DD</text>
<text font-family="'DejaVu Sans', sans-serif" font-weight="200" stroke="#000" stroke-width="0.2" font-size="20.6" transform="translate(438.50 280.90) scale(0.95 1)">RBD</text>
<text font-family="'DejaVu Sans', sans-serif" font-weight="200" stroke="#000" stroke-width="0.2" font-size="20.6" textLength="116" lengthAdjust="spacing" transform="translate(438.50 304.30) scale(0.95 1)">Simulation</text>
<text font-family="'DejaVu Sans', sans-serif" font-weight="200" font-size="25.5" transform="translate(138.80 288.70) scale(1.35 1)">(</text>
<text font-family="'DejaVu Sans', sans-serif" font-weight="200" stroke="#000" stroke-width="0.2" font-size="17.5" transform="translate(151.85 287.20) scale(1.12 1)">a</text>
<text font-family="'DejaVu Sans', sans-serif" font-weight="200" font-size="25.5" transform="translate(162.00 288.70) scale(1.35 1)">)</text>
<text font-family="'Liberation Serif', serif" font-size="23" transform="translate(184.40 287.70)">Γ</text>
<text font-family="'DejaVu Sans', sans-serif" font-weight="200" stroke="#000" stroke-width="0.2" font-size="20.5" transform="translate(208.00 288.90) scale(1 1.35)">=</text>
<text font-family="'DejaVu Sans', sans-serif" font-weight="200" stroke="#000" stroke-width="0.2" font-size="19.6" transform="translate(237.00 287.20)">3</text>
<text font-family="'DejaVu Sans', sans-serif" font-weight="200" font-size="20.5" stroke="#fff" stroke-width="0.2" transform="translate(249.70 290.30) scale(2.1 1.3)">/</text>
<text font-family="'DejaVu Sans', sans-serif" font-weight="200" stroke="#000" stroke-width="0.2" font-size="19.6" transform="translate(265.70 287.20)">2</text>
<text font-family="'DejaVu Sans', sans-serif" font-weight="200" stroke="#000" stroke-width="0.2" font-size="21" text-anchor="middle" transform="translate(46.98 179.03) rotate(-90)">D</text>
<text font-family="'DejaVu Sans', sans-serif" font-weight="200" font-size="25.5" text-anchor="middle" transform="translate(48.38 166.38) rotate(-90) scale(1.3 1)">(</text>
<text font-family="'DejaVu Serif', serif" font-style="italic" font-size="19" transform="translate(45.52 162.40) rotate(-90) scale(1.1 0.9)">τ</text>
<text font-family="'DejaVu Sans', sans-serif" font-weight="200" font-size="25.5" text-anchor="middle" transform="translate(48.38 143.97) rotate(-90) scale(1.3 1)">)</text>
<text font-family="'DejaVu Sans', sans-serif" font-weight="200" stroke="#000" stroke-width="0.2" font-size="20.8" text-anchor="end" transform="translate(98.90 644.30) scale(1.06 1)">0.0</text>
<text font-family="'DejaVu Sans', sans-serif" font-weight="200" stroke="#000" stroke-width="0.2" font-size="20.8" text-anchor="end" transform="translate(98.90 593.60) scale(1.06 1)">0.1</text>
<text font-family="'DejaVu Sans', sans-serif" font-weight="200" stroke="#000" stroke-width="0.2" font-size="20.8" text-anchor="end" transform="translate(98.90 534.10) scale(1.06 1)">0.2</text>
<text font-family="'DejaVu Sans', sans-serif" font-weight="200" stroke="#000" stroke-width="0.2" font-size="20.8" text-anchor="end" transform="translate(98.90 474.60) scale(1.06 1)">0.3</text>
<text font-family="'DejaVu Sans', sans-serif" font-weight="200" stroke="#000" stroke-width="0.2" font-size="20.8" text-anchor="end" transform="translate(98.90 415.10) scale(1.06 1)">0.4</text>
<text font-family="'DejaVu Sans', sans-serif" font-weight="200" stroke="#000" stroke-width="0.2" font-size="20.8" text-anchor="end" transform="translate(98.90 355.60) scale(1.06 1)">0.5</text>
<text font-family="'DejaVu Sans', sans-serif" font-weight="200" stroke="#000" stroke-width="0.2" font-size="20.6" transform="translate(439.50 543.20) scale(0.95 1)">ODE</text>
<text font-family="'DejaVu Sans', sans-serif" font-weight="200" stroke="#000" stroke-width="0.2" font-size="20.6" transform="translate(438.50 573.00) scale(0.95 1)">DD</text>
<text font-family="'DejaVu Sans', sans-serif" font-weight="200" stroke="#000" stroke-width="0.2" font-size="20.6" transform="translate(438.50 602.40) scale(0.95 1)">RBD</text>
<text font-family="'DejaVu Sans', sans-serif" font-weight="200" stroke="#000" stroke-width="0.2" font-size="20.6" textLength="116" lengthAdjust="spacing" transform="translate(438.50 625.80) scale(0.95 1)">Simulation</text>
<text font-family="'DejaVu Sans', sans-serif" font-weight="200" font-size="25.5" transform="translate(138.80 610.20) scale(1.35 1)">(</text>
<text font-family="'DejaVu Sans', sans-serif" font-weight="200" stroke="#000" stroke-width="0.2" font-size="17.5" transform="translate(151.15 608.80) scale(1.12 1)">b</text>
<text font-family="'DejaVu Sans', sans-serif" font-weight="200" font-size="25.5" transform="translate(161.60 610.20) scale(1.35 1)">)</text>
<text font-family="'Liberation Serif', serif" font-size="23" transform="translate(184.40 609.20)">Γ</text>
<text font-family="'DejaVu Sans', sans-serif" font-weight="200" stroke="#000" stroke-width="0.2" font-size="20.5" transform="translate(207.60 610.40) scale(1 1.35)">=</text>
<text font-family="'DejaVu Sans', sans-serif" font-weight="200" stroke="#000" stroke-width="0.2" font-size="19.6" transform="translate(235.20 608.70)">5</text>
<text font-family="'DejaVu Sans', sans-serif" font-weight="200" font-size="20.5" stroke="#fff" stroke-width="0.2" transform="translate(249.60 611.80) scale(2.1 1.3)">/</text>
<text font-family="'DejaVu Sans', sans-serif" font-weight="200" stroke="#000" stroke-width="0.2" font-size="19.6" transform="translate(266.60 608.70)">3</text>
<text font-family="'DejaVu Sans', sans-serif" font-weight="200" stroke="#000" stroke-width="0.2" font-size="21" text-anchor="middle" transform="translate(46.98 500.52) rotate(-90)">D</text>
<text font-family="'DejaVu Sans', sans-serif" font-weight="200" font-size="25.5" text-anchor="middle" transform="translate(48.38 487.88) rotate(-90) scale(1.3 1)">(</text>
<text font-family="'DejaVu Serif', serif" font-style="italic" font-size="19" transform="translate(45.52 483.90) rotate(-90) scale(1.1 0.9)">τ</text>
<text font-family="'DejaVu Sans', sans-serif" font-weight="200" font-size="25.5" text-anchor="middle" transform="translate(48.38 465.48) rotate(-90) scale(1.3 1)">)</text>
<text font-family="'DejaVu Sans', sans-serif" font-weight="200" stroke="#000" stroke-width="0.2" font-size="20.8" text-anchor="end" transform="translate(98.90 965.80) scale(1.06 1)">0.0</text>
<text font-family="'DejaVu Sans', sans-serif" font-weight="200" stroke="#000" stroke-width="0.2" font-size="20.8" text-anchor="end" transform="translate(98.90 915.10) scale(1.06 1)">0.1</text>
<text font-family="'DejaVu Sans', sans-serif" font-weight="200" stroke="#000" stroke-width="0.2" font-size="20.8" text-anchor="end" transform="translate(98.90 855.60) scale(1.06 1)">0.2</text>
<text font-family="'DejaVu Sans', sans-serif" font-weight="200" stroke="#000" stroke-width="0.2" font-size="20.8" text-anchor="end" transform="translate(98.90 796.10) scale(1.06 1)">0.3</text>
<text font-family="'DejaVu Sans', sans-serif" font-weight="200" stroke="#000" stroke-width="0.2" font-size="20.8" text-anchor="end" transform="translate(98.90 736.60) scale(1.06 1)">0.4</text>
<text font-family="'DejaVu Sans', sans-serif" font-weight="200" stroke="#000" stroke-width="0.2" font-size="20.8" text-anchor="end" transform="translate(98.90 677.10) scale(1.06 1)">0.5</text>
<text font-family="'DejaVu Sans', sans-serif" font-weight="200" stroke="#000" stroke-width="0.2" font-size="20.6" transform="translate(439.50 864.70) scale(0.95 1)">ODE</text>
<text font-family="'DejaVu Sans', sans-serif" font-weight="200" stroke="#000" stroke-width="0.2" font-size="20.6" transform="translate(438.50 894.50) scale(0.95 1)">DD</text>
<text font-family="'DejaVu Sans', sans-serif" font-weight="200" stroke="#000" stroke-width="0.2" font-size="20.6" transform="translate(438.50 923.90) scale(0.95 1)">RBD</text>
<text font-family="'DejaVu Sans', sans-serif" font-weight="200" stroke="#000" stroke-width="0.2" font-size="20.6" textLength="116" lengthAdjust="spacing" transform="translate(438.50 947.30) scale(0.95 1)">Simulation</text>
<text font-family="'DejaVu Sans', sans-serif" font-weight="200" font-size="25.5" transform="translate(138.80 931.70) scale(1.35 1)">(</text>
<text font-family="'DejaVu Sans', sans-serif" font-weight="200" stroke="#000" stroke-width="0.2" font-size="18.5" transform="translate(151.15 930.20) scale(1.12 1)">c</text>
<text font-family="'DejaVu Sans', sans-serif" font-weight="200" font-size="25.5" transform="translate(160.60 931.70) scale(1.35 1)">)</text>
<text font-family="'Liberation Serif', serif" font-size="23" transform="translate(184.40 930.70)">Γ</text>
<text font-family="'DejaVu Sans', sans-serif" font-weight="200" stroke="#000" stroke-width="0.2" font-size="20.5" transform="translate(206.30 931.90) scale(1 1.35)">=</text>
<text font-family="'DejaVu Sans', sans-serif" font-weight="200" stroke="#000" stroke-width="0.2" font-size="19.6" transform="translate(235.80 930.20)">2</text>
<text font-family="'DejaVu Sans', sans-serif" font-weight="200" stroke="#000" stroke-width="0.2" font-size="21" text-anchor="middle" transform="translate(46.98 822.02) rotate(-90)">D</text>
<text font-family="'DejaVu Sans', sans-serif" font-weight="200" font-size="25.5" text-anchor="middle" transform="translate(48.38 809.38) rotate(-90) scale(1.3 1)">(</text>
<text font-family="'DejaVu Serif', serif" font-style="italic" font-size="19" transform="translate(45.52 805.40) rotate(-90) scale(1.1 0.9)">τ</text>
<text font-family="'DejaVu Sans', sans-serif" font-weight="200" font-size="25.5" text-anchor="middle" transform="translate(48.38 786.98) rotate(-90) scale(1.3 1)">)</text>
<text font-family="'DejaVu Sans', sans-serif" font-weight="200" stroke="#000" stroke-width="0.2" font-size="20.3" text-anchor="middle" transform="translate(104.95 997.40) scale(1.06 1)">0</text>
<text font-family="'DejaVu Sans', sans-serif" font-weight="200" stroke="#000" stroke-width="0.2" font-size="20.3" text-anchor="middle" transform="translate(200.48 997.40) scale(1.06 1)">20</text>
<text font-family="'DejaVu Sans', sans-serif" font-weight="200" stroke="#000" stroke-width="0.2" font-size="20.3" text-anchor="middle" transform="translate(295.41 997.40) scale(1.06 1)">40</text>
<text font-family="'DejaVu Sans', sans-serif" font-weight="200" stroke="#000" stroke-width="0.2" font-size="20.3" text-anchor="middle" transform="translate(389.64 997.40) scale(1.06 1)">60</text>
<text font-family="'DejaVu Sans', sans-serif" font-weight="200" stroke="#000" stroke-width="0.2" font-size="20.3" text-anchor="middle" transform="translate(484.17 997.40) scale(1.06 1)">80</text>
<text font-family="'DejaVu Sans', sans-serif" font-weight="200" stroke="#000" stroke-width="0.2" font-size="20.3" text-anchor="middle" transform="translate(579.60 997.40) scale(1.06 1)">100</text>
<text font-family="'DejaVu Serif', serif" font-style="italic" font-size="19.5" transform="translate(334.85 1023.00) scale(1.15 1)">τ</text>
<text font-family="'DejaVu Serif', serif" font-size="20.5" transform="translate(-0.25 1025.30)">a</text>
</g>
</svg></body></html>
